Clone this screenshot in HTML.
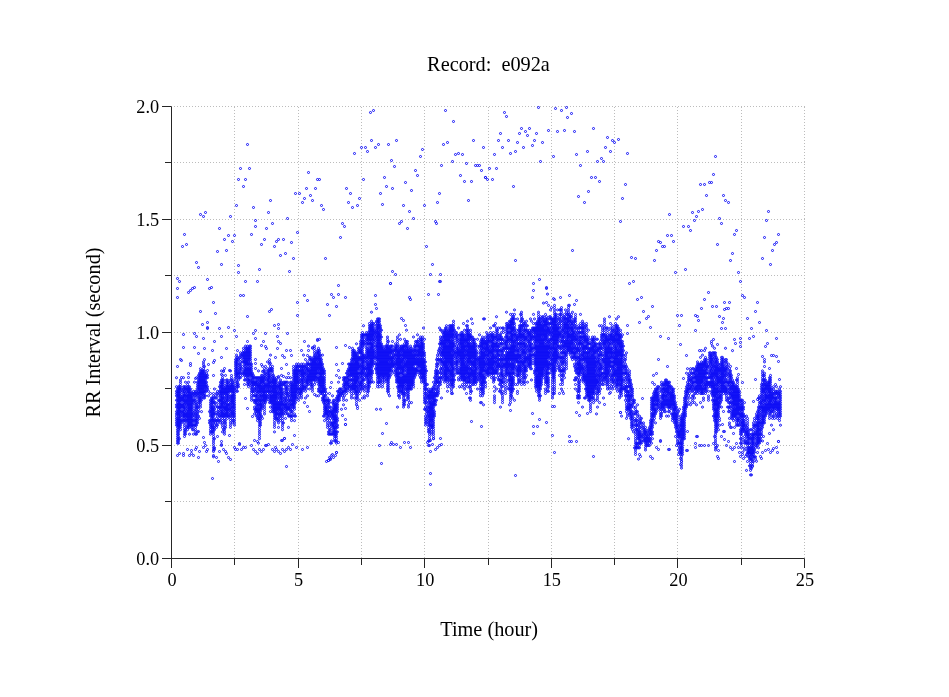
<!DOCTYPE html>
<html><head><meta charset="utf-8"><title>Record: e092a</title>
<style>html,body{margin:0;padding:0;background:#fff}svg{display:block;will-change:transform}</style></head>
<body>
<svg width="949" height="697" viewBox="0 0 949 697">
<defs><marker id="m" markerWidth="4" markerHeight="4" refX="2" refY="2" markerUnits="userSpaceOnUse" overflow="visible"><circle cx="2" cy="2" r="1.03" fill="none" stroke="#0a0af5" stroke-width="0.95"/></marker></defs>
<rect width="949" height="697" fill="#fff"/>
<path d="M234.5 107V558M298.5 107V558M361.5 107V558M424.5 107V558M488.5 107V558M551.5 107V558M614.5 107V558M677.5 107V558M741.5 107V558M804.5 107V558" fill="none" stroke="#bcbcbc" stroke-width="1" stroke-dasharray="1 2" shape-rendering="crispEdges"/>
<path d="M174 501.5H805M174 445.5H805M174 388.5H805M174 332.5H805M174 275.5H805M174 219.5H805M174 162.5H805M174 106.5H805" fill="none" stroke="#bcbcbc" stroke-width="1" stroke-dasharray="1 2" shape-rendering="crispEdges"/>
<path d="M171.5 106.5V568.0M162.0 558.5H804.5V568.0M234.5 558.5v6.5M298.5 558.5v9.5M361.5 558.5v6.5M424.5 558.5v9.5M488.5 558.5v6.5M551.5 558.5v9.5M614.5 558.5v6.5M677.5 558.5v9.5M741.5 558.5v6.5M171.5 501.5h-6.5M171.5 445.5h-9.5M171.5 388.5h-6.5M171.5 332.5h-9.5M171.5 275.5h-6.5M171.5 219.5h-9.5M171.5 162.5h-6.5M171.5 106.5h-9.5" fill="none" stroke="#262626" stroke-width="1"/>
<polyline transform="translate(.5 .5)" points="176,377.2 176,386.2 176,390.8 176,393 176,395.3 176,399.8 176,404.3 176,406.6 176,411.1 176,413.4 176,415.6 176,417.9 176,420.1 176,422.4 176,424.7 177,388.5 177,390.8 177,393 177,395.3 177,397.5 177,399.8 177,402.1 177,404.3 177,406.6 177,408.8 177,411.1 177,413.4 177,417.9 177,420.1 177,422.4 177,424.7 177,426.9 177,429.2 177,431.4 177,433.7 177,436 177,438.2 177,440.5 177,442.7 178,386.2 178,388.5 178,390.8 178,393 178,395.3 178,397.5 178,399.8 178,402.1 178,404.3 178,406.6 178,408.8 178,411.1 178,413.4 178,415.6 178,417.9 178,420.1 178,422.4 178,424.7 178,426.9 178,429.2 178,431.4 178,433.7 178,436 178,438.2 178,440.5 178,442.7 179,386.2 179,388.5 179,390.8 179,393 179,395.3 179,397.5 179,399.8 179,402.1 179,404.3 179,406.6 179,408.8 179,411.1 179,413.4 179,415.6 179,417.9 179,420.1 179,422.4 179,424.7 179,426.9 179,438.2 180,379.5 180,381.7 180,384 180,386.2 180,388.5 180,390.8 180,393 180,395.3 180,397.5 180,399.8 180,402.1 180,404.3 180,406.6 180,408.8 180,411.1 180,413.4 180,415.6 180,417.9 180,420.1 180,422.4 180,424.7 180,426.9 180,429.2 181,388.5 181,397.5 181,399.8 181,404.3 181,406.6 181,411.1 181,420.1 181,422.4 182,390.8 182,395.3 182,397.5 182,399.8 182,404.3 182,406.6 182,411.1 182,413.4 182,415.6 182,420.1 183,377.2 183,386.2 183,388.5 183,390.8 183,393 183,395.3 183,397.5 183,399.8 183,402.1 183,404.3 183,406.6 183,408.8 183,411.1 183,413.4 183,415.6 183,417.9 183,420.1 184,386.2 184,388.5 184,390.8 184,393 184,395.3 184,397.5 184,399.8 184,402.1 184,404.3 184,406.6 184,408.8 184,411.1 184,413.4 184,415.6 184,417.9 184,420.1 184,422.4 184,424.7 184,426.9 184,429.2 184,431.4 184,433.7 184,436 185,381.7 185,386.2 185,388.5 185,393 185,395.3 185,399.8 185,402.1 185,406.6 185,408.8 185,413.4 185,415.6 185,420.1 185,429.2 185,431.4 185,433.7 186,388.5 186,390.8 186,395.3 186,397.5 186,399.8 186,402.1 186,404.3 186,411.1 186,413.4 186,415.6 186,417.9 186,420.1 186,426.9 187,384 187,386.2 187,388.5 187,390.8 187,393 187,395.3 187,397.5 187,399.8 187,402.1 187,404.3 187,406.6 187,408.8 187,411.1 187,413.4 187,415.6 187,417.9 187,420.1 187,422.4 187,424.7 187,426.9 187,429.2 188,381.7 188,386.2 188,388.5 188,390.8 188,393 188,395.3 188,397.5 188,399.8 188,402.1 188,404.3 188,406.6 188,408.8 188,411.1 188,413.4 188,415.6 188,417.9 188,420.1 188,422.4 188,424.7 188,426.9 189,386.2 189,388.5 189,390.8 189,393 189,395.3 189,397.5 189,399.8 189,402.1 189,404.3 189,406.6 189,408.8 189,411.1 189,413.4 189,415.6 189,417.9 189,420.1 189,422.4 189,424.7 189,426.9 189,433.7 190,388.5 190,390.8 190,393 190,395.3 190,397.5 190,399.8 190,402.1 190,404.3 190,406.6 190,408.8 190,411.1 190,413.4 190,415.6 190,417.9 190,420.1 190,422.4 190,424.7 191,393 191,395.3 191,397.5 191,399.8 191,402.1 191,404.3 191,406.6 191,408.8 191,411.1 191,413.4 191,415.6 191,417.9 191,420.1 191,422.4 191,424.7 191,426.9 192,393 192,395.3 192,397.5 192,399.8 192,402.1 192,404.3 192,406.6 192,408.8 192,411.1 192,413.4 192,415.6 192,417.9 192,420.1 192,422.4 192,424.7 192,426.9 192,429.2 193,390.8 193,393 193,399.8 193,402.1 193,413.4 193,420.1 193,424.7 193,429.2 193,433.7 194,381.7 194,393 194,395.3 194,399.8 194,411.1 194,415.6 194,420.1 194,424.7 195,390.8 195,393 195,395.3 195,397.5 195,399.8 195,402.1 195,404.3 195,406.6 195,408.8 195,411.1 195,413.4 195,415.6 195,417.9 195,420.1 195,422.4 195,424.7 195,426.9 195,429.2 195,431.4 195,433.7 196,377.2 196,390.8 196,393 196,402.1 196,404.3 196,406.6 196,408.8 196,413.4 196,417.9 196,420.1 196,422.4 196,424.7 196,433.7 197,381.7 197,384 197,386.2 197,388.5 197,393 197,395.3 197,406.6 197,411.1 197,413.4 197,415.6 197,417.9 197,420.1 197,422.4 197,431.4 198,374.9 198,377.2 198,379.5 198,381.7 198,384 198,386.2 198,388.5 198,390.8 198,393 198,395.3 198,397.5 198,399.8 198,402.1 198,404.3 198,406.6 198,408.8 198,411.1 198,415.6 199,372.7 199,374.9 199,377.2 199,379.5 199,381.7 199,384 199,386.2 199,388.5 199,390.8 199,393 199,397.5 199,399.8 199,402.1 199,417.9 200,368.2 200,370.4 200,372.7 200,374.9 200,377.2 200,379.5 200,381.7 200,384 200,386.2 200,388.5 200,390.8 200,393 200,395.3 200,397.5 200,399.8 200,402.1 200,404.3 200,406.6 201,370.4 201,372.7 201,374.9 201,377.2 201,379.5 201,381.7 201,384 201,386.2 201,388.5 201,390.8 201,393 201,395.3 201,397.5 201,399.8 201,411.1 202,370.4 202,372.7 202,374.9 202,377.2 202,379.5 202,381.7 202,384 202,386.2 202,388.5 202,390.8 202,393 203,361.4 203,363.6 203,365.9 203,368.2 203,370.4 203,372.7 203,374.9 203,377.2 203,379.5 203,381.7 203,384 203,386.2 203,388.5 203,390.8 203,393 203,395.3 203,397.5 204,359.1 204,370.4 204,372.7 204,374.9 204,377.2 204,379.5 204,381.7 204,384 204,386.2 204,388.5 204,390.8 204,393 204,395.3 204,397.5 205,374.9 205,377.2 205,379.5 205,381.7 205,384 205,386.2 205,390.8 205,395.3 206,372.7 206,374.9 206,377.2 206,381.7 206,384 206,386.2 206,388.5 206,390.8 207,374.9 207,377.2 207,386.2 207,388.5 208,390.8 208,395.3 209,411.1 209,420.1 209,422.4 210,393 210,399.8 210,402.1 210,404.3 210,406.6 210,408.8 210,411.1 210,413.4 210,415.6 210,420.1 210,422.4 210,424.7 210,426.9 210,429.2 210,431.4 210,433.7 211,397.5 211,399.8 211,402.1 211,404.3 211,406.6 211,408.8 211,411.1 211,413.4 211,415.6 211,417.9 211,420.1 211,424.7 211,426.9 211,431.4 212,397.5 212,399.8 212,402.1 212,406.6 212,408.8 212,411.1 212,413.4 212,415.6 212,417.9 212,420.1 212,422.4 212,424.7 212,426.9 212,429.2 212,431.4 213,393 213,395.3 213,397.5 213,399.8 213,402.1 213,404.3 213,406.6 213,408.8 213,411.1 213,413.4 213,415.6 213,417.9 213,420.1 213,422.4 213,426.9 213,429.2 213,431.4 213,433.7 213,436 213,438.2 213,440.5 213,442.7 213,445 213,447.3 213,449.5 213,456.3 214,388.5 214,402.1 214,408.8 214,411.1 214,413.4 214,420.1 214,424.7 214,426.9 214,429.2 214,438.2 214,447.3 215,395.3 215,397.5 215,402.1 215,406.6 215,413.4 215,420.1 215,422.4 216,393 216,397.5 216,404.3 216,417.9 216,420.1 216,424.7 216,426.9 217,390.8 217,393 217,406.6 217,411.1 217,413.4 217,415.6 217,420.1 217,422.4 217,424.7 217,436 218,395.3 218,399.8 218,402.1 218,406.6 218,408.8 218,411.1 218,413.4 218,420.1 219,386.2 219,390.8 219,393 219,399.8 219,406.6 219,415.6 219,417.9 219,420.1 220,381.7 220,384 220,386.2 220,388.5 220,390.8 220,393 220,395.3 220,397.5 220,399.8 220,402.1 220,404.3 220,406.6 220,408.8 220,411.1 220,413.4 220,415.6 220,420.1 220,422.4 221,370.4 221,379.5 221,381.7 221,384 221,386.2 221,388.5 221,390.8 221,393 221,395.3 221,397.5 221,399.8 221,402.1 221,404.3 221,406.6 221,408.8 221,411.1 221,413.4 221,415.6 222,374.9 222,377.2 222,379.5 222,381.7 222,384 222,386.2 222,388.5 222,390.8 222,393 222,395.3 222,397.5 222,399.8 222,402.1 222,404.3 222,406.6 222,411.1 222,413.4 222,415.6 222,417.9 222,420.1 222,422.4 222,424.7 222,426.9 222,431.4 223,370.4 223,379.5 223,381.7 223,384 223,386.2 223,388.5 223,390.8 223,393 223,397.5 223,399.8 223,402.1 223,404.3 223,406.6 223,408.8 223,411.1 223,413.4 223,415.6 223,429.2 224,388.5 224,390.8 224,393 224,395.3 224,397.5 224,402.1 224,406.6 224,408.8 224,413.4 224,415.6 224,417.9 224,420.1 224,422.4 224,426.9 224,429.2 224,431.4 224,433.7 225,374.9 225,386.2 225,388.5 225,390.8 225,393 225,399.8 225,402.1 225,404.3 225,406.6 225,408.8 225,411.1 225,413.4 225,415.6 225,420.1 225,422.4 225,424.7 225,426.9 226,379.5 226,381.7 226,384 226,386.2 226,388.5 226,390.8 226,393 226,395.3 226,397.5 226,399.8 226,402.1 226,404.3 226,406.6 226,408.8 226,411.1 226,413.4 226,415.6 227,379.5 227,381.7 227,384 227,386.2 227,388.5 227,390.8 227,393 227,395.3 227,397.5 227,399.8 227,404.3 227,406.6 227,408.8 227,411.1 227,413.4 227,415.6 227,417.9 228,381.7 228,384 228,386.2 228,388.5 228,390.8 228,393 228,395.3 228,397.5 228,399.8 228,402.1 228,404.3 228,406.6 228,408.8 228,411.1 228,413.4 228,415.6 229,386.2 229,388.5 229,390.8 229,404.3 229,408.8 229,415.6 230,370.4 230,379.5 230,381.7 230,384 230,386.2 230,388.5 230,390.8 230,395.3 230,397.5 230,399.8 230,402.1 230,404.3 230,406.6 230,408.8 230,411.1 230,413.4 230,415.6 230,417.9 230,420.1 230,422.4 230,424.7 230,426.9 231,377.2 231,379.5 231,384 231,386.2 231,388.5 231,390.8 231,395.3 231,397.5 231,399.8 231,402.1 231,406.6 231,408.8 231,411.1 231,413.4 232,381.7 232,384 232,386.2 232,388.5 232,390.8 232,393 232,395.3 232,397.5 232,399.8 232,402.1 232,404.3 232,406.6 232,411.1 232,413.4 232,415.6 232,417.9 232,420.1 232,422.4 233,379.5 233,381.7 233,384 233,386.2 233,388.5 233,390.8 233,393 233,395.3 233,397.5 233,399.8 233,402.1 233,404.3 233,406.6 233,408.8 233,411.1 233,413.4 233,415.6 233,420.1 234,386.2 234,388.5 234,390.8 234,393 234,395.3 234,397.5 234,399.8 234,402.1 234,404.3 234,406.6 234,408.8 234,411.1 234,413.4 234,415.6 234,417.9 234,420.1 234,422.4 234,424.7 235,359.1 235,361.4 235,363.6 235,365.9 235,368.2 235,370.4 235,372.7 235,374.9 235,377.2 236,354.6 236,356.9 236,359.1 236,361.4 236,363.6 236,365.9 236,368.2 236,370.4 236,372.7 236,374.9 236,377.2 236,379.5 236,381.7 236,384 236,386.2 236,388.5 236,390.8 237,350.1 237,356.9 237,359.1 237,361.4 237,363.6 237,365.9 237,368.2 237,370.4 237,372.7 237,374.9 237,381.7 237,384 237,386.2 237,390.8 238,359.1 238,372.7 238,374.9 238,377.2 238,379.5 238,384 238,386.2 239,356.9 239,363.6 239,365.9 239,368.2 239,370.4 239,372.7 239,377.2 240,352.3 240,354.6 240,356.9 240,359.1 240,361.4 240,363.6 240,365.9 240,368.2 240,370.4 240,372.7 240,374.9 240,377.2 241,354.6 241,368.2 242,352.3 242,354.6 242,356.9 242,361.4 242,365.9 242,372.7 242,374.9 243,347.8 243,350.1 243,352.3 243,354.6 243,356.9 243,359.1 243,361.4 243,370.4 243,372.7 244,352.3 244,354.6 244,356.9 244,359.1 244,361.4 244,363.6 244,365.9 244,368.2 244,370.4 244,372.7 244,374.9 244,379.5 244,384 245,345.6 245,347.8 245,350.1 245,352.3 245,354.6 245,356.9 245,359.1 245,361.4 245,363.6 245,365.9 245,368.2 245,370.4 245,372.7 245,374.9 245,377.2 245,379.5 246,347.8 246,350.1 246,352.3 246,354.6 246,356.9 246,359.1 246,361.4 246,363.6 246,368.2 246,370.4 246,372.7 246,374.9 247,341 247,345.6 247,347.8 247,350.1 247,352.3 247,354.6 247,356.9 247,359.1 247,361.4 247,363.6 247,365.9 247,368.2 247,370.4 247,372.7 247,374.9 247,377.2 247,379.5 247,381.7 247,384 248,347.8 248,350.1 248,352.3 248,354.6 248,356.9 248,359.1 248,361.4 248,363.6 248,365.9 248,368.2 248,370.4 248,372.7 248,374.9 248,377.2 248,379.5 248,381.7 248,384 248,386.2 249,345.6 249,347.8 249,350.1 249,352.3 249,354.6 249,356.9 249,359.1 249,363.6 249,368.2 249,370.4 249,372.7 249,374.9 249,379.5 249,384 250,345.6 250,347.8 250,350.1 250,352.3 250,354.6 250,356.9 250,359.1 250,361.4 250,363.6 250,365.9 250,368.2 250,370.4 250,372.7 250,374.9 250,379.5 250,381.7 251,363.6 251,365.9 251,368.2 251,370.4 251,372.7 251,374.9 251,377.2 251,381.7 251,384 251,386.2 251,388.5 251,390.8 251,393 251,395.3 251,397.5 251,399.8 252,372.7 252,374.9 252,377.2 252,379.5 252,381.7 252,384 252,386.2 252,388.5 252,390.8 253,374.9 253,377.2 253,379.5 253,381.7 253,384 253,390.8 253,393 253,395.3 253,399.8 254,377.2 254,381.7 254,384 254,386.2 254,388.5 254,390.8 254,395.3 254,399.8 254,402.1 254,406.6 254,408.8 254,413.4 255,377.2 255,381.7 255,384 255,388.5 255,395.3 255,399.8 255,402.1 255,408.8 255,411.1 256,377.2 256,379.5 256,381.7 256,384 256,386.2 256,388.5 256,390.8 256,393 256,395.3 256,397.5 256,399.8 256,402.1 256,404.3 256,406.6 256,408.8 256,411.1 256,413.4 256,415.6 257,377.2 257,379.5 257,381.7 257,384 257,386.2 257,390.8 257,393 257,395.3 257,397.5 257,399.8 257,402.1 257,404.3 257,406.6 257,408.8 257,411.1 257,415.6 257,417.9 257,420.1 258,370.4 258,377.2 258,384 258,386.2 258,388.5 258,390.8 258,399.8 258,404.3 258,408.8 258,411.1 258,413.4 258,417.9 258,442.7 259,377.2 259,379.5 259,381.7 259,384 259,386.2 259,388.5 259,390.8 259,393 259,395.3 259,397.5 259,399.8 259,402.1 259,404.3 259,406.6 259,408.8 259,411.1 259,413.4 259,415.6 259,417.9 259,420.1 259,422.4 259,424.7 259,426.9 259,429.2 259,431.4 259,433.7 259,436 259,438.2 260,377.2 260,379.5 260,381.7 260,384 260,386.2 260,388.5 260,390.8 260,393 260,395.3 260,397.5 260,399.8 260,402.1 260,404.3 260,406.6 260,408.8 260,411.1 260,413.4 260,415.6 260,417.9 260,420.1 260,422.4 260,424.7 261,374.9 261,377.2 261,379.5 261,381.7 261,384 261,386.2 261,388.5 261,390.8 261,395.3 261,399.8 261,402.1 261,404.3 261,406.6 261,408.8 261,415.6 262,365.9 262,374.9 262,377.2 262,379.5 262,381.7 262,386.2 262,388.5 262,390.8 262,393 262,395.3 262,397.5 262,399.8 262,404.3 262,406.6 262,417.9 263,370.4 263,377.2 263,379.5 263,381.7 263,384 263,386.2 263,388.5 263,390.8 263,393 263,395.3 263,397.5 263,399.8 263,402.1 264,368.2 264,370.4 264,372.7 264,374.9 264,377.2 264,379.5 264,381.7 264,384 264,386.2 264,388.5 264,390.8 264,393 264,395.3 264,397.5 264,399.8 264,402.1 264,404.3 264,406.6 264,408.8 264,411.1 264,413.4 265,365.9 265,372.7 265,374.9 265,377.2 265,384 265,386.2 265,388.5 265,390.8 265,393 265,395.3 265,397.5 265,399.8 265,402.1 266,379.5 266,384 266,386.2 266,390.8 266,395.3 266,397.5 266,399.8 267,361.4 267,368.2 267,370.4 267,372.7 267,374.9 267,377.2 267,379.5 267,381.7 267,384 267,386.2 267,388.5 267,390.8 267,393 267,395.3 267,397.5 268,370.4 268,372.7 268,374.9 268,377.2 268,379.5 268,381.7 268,384 268,386.2 268,388.5 268,390.8 269,359.1 269,361.4 269,363.6 269,368.2 269,370.4 269,372.7 269,374.9 269,377.2 269,379.5 269,381.7 269,384 269,386.2 269,388.5 269,390.8 269,393 269,395.3 269,397.5 269,399.8 269,402.1 270,354.6 270,365.9 270,368.2 270,370.4 270,374.9 270,377.2 270,381.7 270,384 270,386.2 270,390.8 270,393 270,395.3 270,397.5 270,399.8 270,402.1 270,406.6 270,411.1 271,368.2 271,370.4 271,379.5 271,381.7 271,386.2 271,388.5 271,390.8 271,395.3 271,397.5 271,399.8 271,402.1 272,365.9 272,368.2 272,370.4 272,372.7 272,374.9 272,377.2 272,379.5 272,381.7 272,384 272,386.2 272,388.5 272,390.8 272,393 272,395.3 272,397.5 272,399.8 272,402.1 272,404.3 272,406.6 272,408.8 272,411.1 273,374.9 273,377.2 273,379.5 273,381.7 273,384 273,386.2 273,388.5 273,390.8 273,393 273,395.3 273,397.5 273,399.8 273,402.1 273,404.3 273,406.6 273,408.8 273,411.1 274,377.2 274,379.5 274,381.7 274,384 274,386.2 274,388.5 274,390.8 274,393 274,395.3 274,397.5 274,399.8 274,402.1 274,404.3 274,406.6 274,408.8 274,411.1 274,413.4 274,415.6 274,417.9 274,420.1 274,422.4 274,424.7 274,426.9 274,431.4 275,379.5 275,381.7 275,384 275,386.2 275,388.5 275,390.8 275,393 275,395.3 275,397.5 275,399.8 275,402.1 275,404.3 275,406.6 275,408.8 275,411.1 275,413.4 275,415.6 275,417.9 276,377.2 276,379.5 276,381.7 276,384 276,386.2 276,388.5 276,390.8 276,393 276,395.3 276,397.5 276,399.8 276,402.1 276,404.3 276,406.6 276,408.8 276,411.1 276,413.4 276,417.9 277,386.2 277,390.8 277,393 277,395.3 277,397.5 277,402.1 277,404.3 277,406.6 277,408.8 277,411.1 277,413.4 277,415.6 277,417.9 277,420.1 278,377.2 278,384 278,386.2 278,388.5 278,393 278,399.8 278,402.1 278,404.3 278,406.6 278,408.8 278,413.4 278,417.9 278,420.1 278,422.4 278,426.9 279,381.7 279,384 279,386.2 279,388.5 279,390.8 279,393 279,395.3 279,397.5 279,402.1 279,404.3 279,406.6 279,408.8 279,411.1 279,413.4 279,415.6 280,379.5 280,381.7 280,384 280,386.2 280,388.5 280,390.8 280,393 280,395.3 280,397.5 280,399.8 280,402.1 280,404.3 280,406.6 280,408.8 280,411.1 280,413.4 280,415.6 280,417.9 280,420.1 281,374.9 281,381.7 281,384 281,386.2 281,388.5 281,390.8 281,393 281,395.3 281,397.5 281,399.8 281,402.1 281,404.3 281,406.6 281,408.8 281,411.1 281,413.4 282,384 282,388.5 282,390.8 282,393 282,395.3 282,397.5 282,399.8 282,402.1 282,404.3 282,408.8 282,411.1 282,413.4 282,415.6 282,417.9 282,420.1 282,422.4 282,424.7 282,426.9 282,429.2 283,381.7 283,384 283,393 283,402.1 283,404.3 283,406.6 283,408.8 283,411.1 283,413.4 283,422.4 284,381.7 284,384 284,397.5 284,399.8 284,404.3 284,406.6 285,381.7 285,384 285,386.2 285,388.5 285,390.8 285,393 285,395.3 285,397.5 285,399.8 285,402.1 285,404.3 285,406.6 285,408.8 285,411.1 285,413.4 285,417.9 286,377.2 286,381.7 286,386.2 286,388.5 286,390.8 286,393 286,399.8 286,402.1 286,404.3 286,406.6 286,408.8 286,411.1 287,381.7 287,386.2 287,388.5 287,393 287,395.3 287,397.5 287,404.3 287,406.6 287,408.8 287,413.4 288,384 288,390.8 288,393 288,395.3 288,399.8 288,402.1 288,406.6 288,408.8 288,413.4 288,415.6 288,426.9 289,397.5 289,399.8 289,402.1 289,404.3 289,406.6 289,408.8 289,415.6 290,377.2 290,381.7 290,384 290,386.2 290,388.5 290,390.8 290,393 290,395.3 290,399.8 290,404.3 290,406.6 290,408.8 290,411.1 290,415.6 291,381.7 291,384 291,386.2 291,388.5 291,390.8 291,393 291,395.3 291,397.5 291,399.8 291,402.1 291,404.3 291,411.1 291,413.4 291,415.6 291,417.9 291,420.1 292,384 292,386.2 292,388.5 292,390.8 292,393 292,395.3 292,397.5 292,399.8 292,402.1 292,404.3 292,406.6 292,408.8 292,411.1 292,415.6 293,365.9 293,368.2 293,370.4 293,372.7 293,374.9 293,377.2 293,379.5 293,381.7 293,384 293,386.2 293,388.5 293,390.8 293,393 293,395.3 293,397.5 293,399.8 293,402.1 293,404.3 293,406.6 294,370.4 294,372.7 294,374.9 294,377.2 294,379.5 294,381.7 294,384 294,386.2 294,388.5 294,390.8 294,393 294,395.3 294,397.5 294,399.8 294,402.1 294,404.3 294,406.6 294,408.8 294,413.4 294,415.6 294,420.1 295,365.9 295,368.2 295,370.4 295,372.7 295,374.9 295,377.2 295,379.5 295,381.7 295,384 295,386.2 295,388.5 295,390.8 295,393 295,395.3 295,397.5 295,399.8 295,402.1 295,415.6 296,363.6 296,365.9 296,368.2 296,370.4 296,372.7 296,374.9 296,377.2 296,379.5 296,381.7 296,384 296,386.2 296,388.5 296,390.8 296,393 296,395.3 296,397.5 297,365.9 297,368.2 297,370.4 297,372.7 297,374.9 297,377.2 297,379.5 297,381.7 297,384 297,386.2 297,388.5 297,390.8 298,363.6 298,365.9 298,370.4 298,372.7 298,374.9 298,377.2 298,379.5 298,381.7 298,388.5 298,393 298,397.5 298,399.8 299,365.9 299,368.2 299,370.4 299,381.7 299,384 299,386.2 299,388.5 299,390.8 299,393 299,395.3 300,365.9 300,370.4 300,372.7 300,374.9 300,377.2 300,379.5 300,388.5 300,390.8 300,393 301,363.6 301,365.9 301,368.2 301,370.4 301,372.7 301,374.9 301,379.5 301,381.7 301,384 301,386.2 301,388.5 301,390.8 301,393 301,395.3 301,397.5 302,365.9 302,368.2 302,370.4 302,372.7 302,374.9 302,377.2 302,379.5 302,381.7 302,384 302,386.2 302,388.5 302,390.8 303,354.6 303,363.6 303,365.9 303,368.2 303,370.4 303,372.7 303,374.9 303,377.2 303,379.5 303,381.7 303,384 303,386.2 303,388.5 304,365.9 304,370.4 304,372.7 304,374.9 304,377.2 304,386.2 304,388.5 304,402.1 305,359.1 305,365.9 305,368.2 305,372.7 305,379.5 305,381.7 305,386.2 305,390.8 305,397.5 306,363.6 306,365.9 306,368.2 306,370.4 306,372.7 306,374.9 306,377.2 306,379.5 306,381.7 306,384 306,386.2 306,388.5 307,361.4 307,363.6 307,368.2 307,370.4 307,374.9 307,377.2 307,379.5 307,381.7 307,384 307,395.3 308,345.6 308,363.6 308,365.9 308,368.2 308,370.4 308,372.7 308,374.9 308,377.2 308,379.5 308,381.7 308,384 309,356.9 309,359.1 309,363.6 309,370.4 309,372.7 309,374.9 309,377.2 309,379.5 309,388.5 310,356.9 310,359.1 310,363.6 310,365.9 310,368.2 310,370.4 310,372.7 310,374.9 310,377.2 310,379.5 310,381.7 310,384 311,359.1 311,361.4 311,363.6 311,365.9 311,368.2 311,370.4 311,372.7 311,374.9 311,377.2 311,379.5 311,381.7 311,384 311,386.2 312,347.8 312,359.1 312,361.4 312,363.6 312,365.9 312,368.2 312,370.4 312,372.7 312,374.9 312,377.2 312,379.5 312,384 312,386.2 312,388.5 312,390.8 313,356.9 313,359.1 313,361.4 313,363.6 313,365.9 313,368.2 313,370.4 313,372.7 313,374.9 313,377.2 313,379.5 314,345.6 314,347.8 314,350.1 314,352.3 314,354.6 314,356.9 314,359.1 314,361.4 314,363.6 314,365.9 314,368.2 314,370.4 314,372.7 314,374.9 314,377.2 314,379.5 314,384 315,354.6 315,356.9 315,359.1 315,361.4 315,363.6 315,365.9 315,368.2 315,370.4 315,372.7 315,374.9 315,377.2 315,379.5 315,381.7 316,352.3 316,356.9 316,359.1 316,361.4 316,363.6 316,365.9 316,368.2 316,370.4 316,372.7 316,374.9 316,377.2 316,395.3 317,350.1 317,352.3 317,354.6 317,356.9 317,359.1 317,363.6 317,365.9 317,368.2 317,370.4 317,372.7 317,377.2 317,379.5 318,347.8 318,350.1 318,352.3 318,354.6 318,356.9 318,359.1 318,361.4 318,363.6 318,365.9 318,368.2 318,372.7 318,377.2 318,379.5 318,381.7 318,384 318,388.5 318,390.8 318,395.3 319,338.8 319,350.1 319,352.3 319,354.6 319,356.9 319,359.1 319,361.4 319,363.6 319,365.9 319,368.2 319,370.4 319,372.7 319,374.9 319,377.2 319,379.5 319,381.7 319,384 319,386.2 319,388.5 319,390.8 320,354.6 320,356.9 320,359.1 320,361.4 320,363.6 320,365.9 320,368.2 320,370.4 320,372.7 320,374.9 320,377.2 320,379.5 320,381.7 320,384 320,386.2 320,390.8 320,393 321,359.1 321,361.4 321,363.6 321,365.9 321,368.2 321,370.4 321,372.7 321,374.9 321,377.2 321,379.5 321,381.7 321,384 321,386.2 321,388.5 321,390.8 321,393 322,354.6 322,363.6 322,365.9 322,368.2 322,370.4 322,372.7 322,374.9 322,377.2 322,379.5 322,381.7 322,384 322,386.2 322,388.5 322,390.8 322,393 322,397.5 322,399.8 323,368.2 323,370.4 323,372.7 323,377.2 323,379.5 323,381.7 323,384 323,386.2 323,388.5 323,390.8 323,395.3 323,397.5 323,399.8 323,402.1 323,415.6 324,370.4 324,372.7 324,374.9 324,377.2 324,379.5 324,381.7 324,384 324,386.2 324,388.5 324,390.8 324,393 324,395.3 324,397.5 324,399.8 324,402.1 324,404.3 324,406.6 324,408.8 324,411.1 324,413.4 324,415.6 324,420.1 325,388.5 325,390.8 325,395.3 325,399.8 325,402.1 325,404.3 325,406.6 325,408.8 325,411.1 325,413.4 326,393 326,399.8 326,406.6 326,408.8 326,411.1 326,413.4 326,417.9 327,397.5 327,399.8 327,402.1 327,404.3 327,406.6 327,408.8 327,411.1 327,413.4 327,415.6 327,417.9 327,420.1 327,422.4 327,424.7 327,426.9 328,399.8 328,402.1 328,404.3 328,411.1 328,413.4 328,415.6 328,431.4 328,433.7 329,393 329,399.8 329,402.1 329,406.6 329,408.8 329,411.1 329,415.6 329,420.1 329,424.7 329,426.9 329,429.2 329,431.4 329,433.7 330,406.6 330,411.1 330,413.4 330,417.9 330,422.4 330,429.2 330,433.7 330,442.7 331,411.1 331,413.4 331,415.6 331,422.4 331,424.7 331,433.7 331,440.5 331,442.7 332,395.3 332,402.1 332,408.8 332,411.1 332,413.4 332,415.6 332,417.9 332,422.4 332,424.7 332,426.9 332,431.4 332,433.7 333,399.8 333,402.1 333,404.3 333,406.6 333,408.8 333,411.1 333,413.4 333,415.6 333,417.9 333,420.1 333,422.4 333,424.7 333,426.9 333,429.2 333,431.4 333,433.7 334,399.8 334,402.1 334,404.3 334,406.6 334,408.8 334,411.1 334,413.4 334,415.6 334,417.9 334,420.1 334,422.4 334,424.7 334,426.9 334,429.2 334,431.4 334,433.7 334,436 334,438.2 334,440.5 335,404.3 335,406.6 335,408.8 335,411.1 335,415.6 335,417.9 335,420.1 335,422.4 335,426.9 335,429.2 335,431.4 335,433.7 335,436 335,440.5 336,397.5 336,399.8 336,402.1 336,404.3 336,406.6 336,408.8 336,411.1 336,413.4 336,415.6 336,417.9 336,420.1 336,422.4 336,424.7 336,426.9 336,431.4 336,433.7 336,436 336,438.2 336,440.5 336,442.7 337,390.8 337,395.3 337,397.5 337,399.8 337,402.1 337,404.3 337,406.6 337,408.8 337,411.1 337,417.9 337,420.1 337,424.7 337,426.9 337,431.4 338,381.7 338,390.8 338,393 338,395.3 338,397.5 338,399.8 339,377.2 339,388.5 339,390.8 339,393 339,395.3 339,397.5 339,399.8 340,388.5 340,393 340,395.3 341,388.5 341,390.8 341,393 341,408.8 342,390.8 342,393 342,395.3 343,377.2 343,379.5 343,384 343,386.2 343,390.8 343,393 343,397.5 343,399.8 343,404.3 344,377.2 344,379.5 344,381.7 344,384 344,386.2 344,388.5 344,390.8 344,395.3 345,377.2 345,379.5 345,381.7 345,384 345,386.2 345,388.5 345,390.8 346,372.7 346,377.2 346,381.7 346,384 346,388.5 346,390.8 346,393 346,399.8 347,370.4 347,372.7 347,374.9 347,377.2 347,379.5 347,381.7 347,384 347,386.2 347,388.5 348,363.6 348,368.2 348,370.4 348,374.9 348,377.2 348,379.5 348,381.7 348,384 348,386.2 349,363.6 349,365.9 349,368.2 349,370.4 349,372.7 349,374.9 349,379.5 349,384 349,386.2 349,388.5 349,390.8 350,363.6 350,365.9 350,368.2 350,370.4 350,372.7 350,374.9 350,379.5 350,386.2 351,359.1 351,361.4 351,363.6 351,365.9 351,368.2 351,370.4 351,372.7 351,374.9 351,377.2 351,379.5 351,381.7 351,384 351,386.2 351,388.5 351,390.8 351,393 351,395.3 351,397.5 352,347.8 352,350.1 352,352.3 352,354.6 352,356.9 352,359.1 352,361.4 352,363.6 352,365.9 352,368.2 352,370.4 352,372.7 352,374.9 352,379.5 352,384 352,386.2 352,388.5 353,350.1 353,352.3 353,354.6 353,356.9 353,359.1 353,363.6 353,365.9 353,368.2 353,370.4 353,372.7 353,374.9 353,377.2 353,379.5 353,381.7 353,384 353,386.2 353,388.5 353,393 354,350.1 354,352.3 354,354.6 354,356.9 354,359.1 354,361.4 354,363.6 354,365.9 354,368.2 354,370.4 354,372.7 354,374.9 354,377.2 354,379.5 354,381.7 354,384 354,386.2 354,388.5 354,390.8 354,397.5 355,352.3 355,354.6 355,356.9 355,359.1 355,361.4 355,363.6 355,365.9 355,368.2 355,370.4 355,372.7 355,374.9 355,377.2 355,379.5 355,381.7 355,384 355,386.2 355,388.5 355,390.8 355,393 356,343.3 356,352.3 356,354.6 356,356.9 356,359.1 356,361.4 356,363.6 356,365.9 356,368.2 356,370.4 356,372.7 356,374.9 356,377.2 356,379.5 356,381.7 356,384 356,386.2 356,388.5 356,390.8 356,393 356,395.3 356,397.5 356,399.8 356,402.1 356,404.3 357,354.6 357,356.9 357,359.1 357,361.4 357,363.6 357,365.9 357,368.2 357,370.4 357,372.7 357,374.9 357,377.2 357,379.5 357,381.7 357,386.2 357,390.8 357,393 357,395.3 357,397.5 358,347.8 358,350.1 358,352.3 358,356.9 358,359.1 358,361.4 358,363.6 358,365.9 358,368.2 358,372.7 358,374.9 358,377.2 358,379.5 358,384 358,386.2 358,388.5 358,390.8 359,347.8 359,350.1 359,352.3 359,356.9 359,359.1 359,363.6 359,365.9 359,368.2 359,372.7 359,377.2 359,381.7 359,384 359,388.5 359,393 359,399.8 360,341 360,343.3 360,345.6 360,350.1 360,352.3 360,356.9 360,359.1 360,365.9 360,370.4 360,372.7 360,374.9 360,381.7 360,384 360,386.2 360,390.8 361,334.3 361,336.5 361,338.8 361,341 361,343.3 361,345.6 361,347.8 361,350.1 361,352.3 361,354.6 361,356.9 361,359.1 361,361.4 361,363.6 361,365.9 361,368.2 361,370.4 361,372.7 361,374.9 361,377.2 361,379.5 361,381.7 361,384 361,386.2 361,388.5 362,332 362,334.3 362,336.5 362,338.8 362,341 362,343.3 362,345.6 362,347.8 362,350.1 362,352.3 362,354.6 362,356.9 362,359.1 362,361.4 362,363.6 362,365.9 362,368.2 362,370.4 362,372.7 362,374.9 362,377.2 362,379.5 362,381.7 362,384 362,386.2 362,388.5 362,397.5 363,325.2 363,334.3 363,336.5 363,341 363,343.3 363,354.6 363,356.9 363,359.1 363,361.4 363,363.6 363,365.9 363,368.2 363,370.4 363,372.7 363,379.5 364,334.3 364,338.8 364,341 364,343.3 364,345.6 364,354.6 364,356.9 364,359.1 364,361.4 364,365.9 364,368.2 364,372.7 364,374.9 364,377.2 364,379.5 364,384 364,386.2 364,388.5 364,390.8 364,395.3 364,397.5 365,334.3 365,356.9 365,368.2 365,370.4 365,374.9 365,386.2 366,332 366,334.3 366,336.5 366,338.8 366,341 366,343.3 366,347.8 366,350.1 366,352.3 366,354.6 366,356.9 366,359.1 366,361.4 366,363.6 366,365.9 366,368.2 366,372.7 366,374.9 366,377.2 367,334.3 367,336.5 367,338.8 367,341 367,343.3 367,345.6 367,347.8 367,350.1 367,352.3 367,354.6 367,356.9 367,359.1 367,361.4 367,363.6 367,365.9 367,368.2 367,370.4 367,372.7 367,374.9 367,377.2 367,379.5 367,381.7 367,384 367,386.2 367,388.5 367,390.8 367,393 367,395.3 368,332 368,334.3 368,336.5 368,338.8 368,343.3 368,350.1 368,352.3 368,354.6 368,356.9 368,363.6 368,365.9 368,368.2 368,370.4 368,372.7 368,374.9 368,377.2 368,379.5 368,381.7 368,384 368,386.2 368,388.5 368,390.8 369,323 369,325.2 369,327.5 369,329.7 369,332 369,334.3 369,336.5 369,338.8 369,341 369,343.3 369,347.8 369,350.1 369,352.3 369,354.6 369,356.9 369,359.1 369,361.4 369,363.6 369,365.9 369,368.2 369,370.4 369,372.7 369,374.9 369,379.5 369,381.7 369,384 369,386.2 370,325.2 370,327.5 370,329.7 370,332 370,334.3 370,336.5 370,338.8 370,341 370,343.3 370,345.6 370,347.8 370,350.1 370,352.3 370,354.6 370,356.9 370,359.1 370,361.4 370,363.6 370,365.9 370,368.2 370,370.4 370,372.7 370,374.9 370,377.2 370,381.7 371,311.7 371,320.7 371,323 371,325.2 371,327.5 371,329.7 371,332 371,334.3 371,336.5 371,338.8 371,341 371,343.3 371,345.6 371,347.8 371,350.1 371,352.3 371,354.6 371,356.9 371,359.1 371,361.4 371,363.6 371,365.9 371,368.2 371,370.4 371,372.7 371,374.9 371,377.2 371,379.5 371,381.7 372,323 372,325.2 372,327.5 372,329.7 372,332 372,334.3 372,336.5 372,338.8 372,343.3 372,345.6 372,347.8 372,350.1 372,352.3 372,354.6 372,356.9 372,359.1 372,361.4 372,363.6 372,365.9 372,370.4 372,372.7 373,323 373,325.2 373,327.5 373,329.7 373,332 373,334.3 373,336.5 373,338.8 373,341 373,343.3 373,345.6 373,347.8 373,350.1 373,352.3 373,354.6 373,356.9 373,359.1 373,361.4 373,363.6 373,381.7 374,329.7 374,332 374,334.3 374,338.8 374,341 374,350.1 374,352.3 374,354.6 374,356.9 375,323 375,332 375,336.5 375,345.6 375,356.9 375,363.6 375,368.2 376,320.7 376,325.2 376,327.5 376,329.7 376,332 376,334.3 376,336.5 376,338.8 376,341 376,343.3 376,345.6 376,347.8 376,350.1 376,352.3 376,354.6 376,356.9 376,359.1 376,361.4 376,363.6 376,365.9 376,368.2 376,370.4 376,372.7 376,408.8 377,318.4 377,320.7 377,323 377,325.2 377,327.5 377,329.7 377,332 377,334.3 377,336.5 377,338.8 377,341 377,343.3 377,345.6 377,347.8 377,350.1 377,352.3 377,354.6 377,356.9 377,359.1 377,363.6 377,365.9 377,368.2 377,370.4 377,372.7 377,374.9 377,377.2 377,379.5 377,381.7 377,384 377,386.2 378,318.4 378,320.7 378,323 378,325.2 378,327.5 378,329.7 378,332 378,334.3 378,336.5 378,338.8 378,341 378,343.3 378,345.6 378,347.8 378,350.1 378,352.3 378,354.6 378,356.9 378,359.1 378,361.4 378,363.6 378,365.9 378,368.2 378,370.4 378,372.7 378,374.9 378,377.2 378,381.7 379,318.4 379,320.7 379,323 379,325.2 379,327.5 379,332 379,334.3 379,336.5 379,338.8 379,341 379,343.3 379,345.6 379,347.8 379,350.1 379,352.3 379,354.6 379,356.9 379,359.1 379,361.4 379,363.6 379,365.9 379,368.2 379,370.4 379,372.7 379,374.9 379,377.2 379,379.5 379,381.7 379,384 379,386.2 380,325.2 380,327.5 380,329.7 380,332 380,334.3 380,336.5 380,338.8 380,341 380,343.3 380,345.6 380,347.8 380,350.1 380,352.3 380,354.6 380,356.9 380,359.1 380,361.4 380,363.6 380,365.9 380,368.2 380,370.4 380,372.7 380,374.9 380,377.2 380,379.5 380,381.7 380,408.8 381,329.7 381,336.5 381,343.3 381,345.6 381,347.8 381,350.1 381,352.3 381,354.6 381,356.9 381,359.1 381,361.4 381,363.6 381,365.9 381,368.2 381,370.4 381,372.7 381,374.9 382,345.6 382,347.8 382,350.1 382,352.3 382,354.6 382,356.9 382,359.1 382,361.4 382,363.6 382,365.9 382,368.2 382,370.4 382,372.7 382,374.9 382,377.2 382,379.5 382,381.7 382,384 382,386.2 383,347.8 383,350.1 383,352.3 383,354.6 383,356.9 383,359.1 383,361.4 383,363.6 383,365.9 383,368.2 383,370.4 383,372.7 383,374.9 383,377.2 384,350.1 384,352.3 384,354.6 384,356.9 384,359.1 384,361.4 384,363.6 384,365.9 384,368.2 384,370.4 384,372.7 384,374.9 384,377.2 384,379.5 384,381.7 385,345.6 385,347.8 385,350.1 385,352.3 385,354.6 385,356.9 385,359.1 385,361.4 385,363.6 385,365.9 385,368.2 385,370.4 385,372.7 385,374.9 386,345.6 386,347.8 386,350.1 386,352.3 386,354.6 386,356.9 386,359.1 386,361.4 386,363.6 386,365.9 386,368.2 386,370.4 386,372.7 386,374.9 386,377.2 386,379.5 387,336.5 387,338.8 387,341 387,343.3 387,345.6 387,347.8 387,350.1 387,352.3 387,354.6 387,356.9 387,359.1 387,361.4 387,363.6 387,365.9 387,368.2 387,370.4 387,372.7 387,374.9 387,377.2 387,379.5 387,381.7 387,384 387,386.2 387,388.5 387,390.8 388,341 388,345.6 388,347.8 388,350.1 388,352.3 388,354.6 388,356.9 388,359.1 388,361.4 388,363.6 388,365.9 388,368.2 388,370.4 388,372.7 388,374.9 388,377.2 388,379.5 388,381.7 388,384 388,386.2 388,388.5 388,390.8 388,393 389,347.8 389,350.1 389,352.3 389,354.6 389,356.9 389,359.1 389,363.6 389,365.9 389,368.2 389,370.4 389,372.7 389,374.9 389,377.2 389,395.3 390,345.6 390,347.8 390,350.1 390,352.3 390,356.9 390,359.1 390,361.4 390,363.6 390,365.9 390,368.2 390,370.4 390,374.9 391,345.6 391,347.8 391,350.1 391,352.3 391,354.6 391,356.9 391,359.1 391,361.4 391,363.6 391,365.9 391,368.2 391,370.4 392,341 392,345.6 392,350.1 392,352.3 392,356.9 392,359.1 392,361.4 392,363.6 392,365.9 392,372.7 393,350.1 393,354.6 393,356.9 393,359.1 393,361.4 393,363.6 393,365.9 393,370.4 394,347.8 394,350.1 394,352.3 394,354.6 394,356.9 394,363.6 394,365.9 395,343.3 395,345.6 395,347.8 395,350.1 395,354.6 395,359.1 395,361.4 395,363.6 395,368.2 395,370.4 395,372.7 395,374.9 396,345.6 396,347.8 396,350.1 396,352.3 396,354.6 396,356.9 396,359.1 396,361.4 396,363.6 396,365.9 396,368.2 396,370.4 396,372.7 396,374.9 396,377.2 396,379.5 396,381.7 397,336.5 397,338.8 397,341 397,343.3 397,345.6 397,347.8 397,350.1 397,352.3 397,354.6 397,356.9 397,359.1 397,361.4 397,363.6 397,365.9 397,368.2 397,370.4 397,372.7 397,374.9 397,377.2 397,379.5 397,381.7 397,386.2 397,406.6 398,350.1 398,352.3 398,354.6 398,356.9 398,359.1 398,361.4 398,363.6 398,365.9 398,368.2 398,372.7 398,374.9 398,377.2 398,379.5 398,381.7 398,384 398,386.2 398,388.5 398,390.8 398,393 398,395.3 399,334.3 399,345.6 399,347.8 399,350.1 399,352.3 399,354.6 399,356.9 399,359.1 399,361.4 399,363.6 399,365.9 399,368.2 399,370.4 399,372.7 399,374.9 399,377.2 399,379.5 399,381.7 399,384 399,386.2 399,388.5 399,390.8 399,395.3 399,397.5 400,338.8 400,347.8 400,350.1 400,352.3 400,354.6 400,356.9 400,359.1 400,361.4 400,363.6 400,365.9 400,368.2 400,372.7 400,377.2 400,379.5 400,381.7 400,384 400,386.2 400,390.8 401,345.6 401,347.8 401,350.1 401,354.6 401,359.1 401,361.4 401,363.6 401,365.9 401,368.2 401,370.4 401,372.7 401,377.2 401,379.5 401,381.7 401,384 401,386.2 401,388.5 401,390.8 401,393 402,345.6 402,347.8 402,350.1 402,352.3 402,354.6 402,356.9 402,359.1 402,361.4 402,365.9 402,368.2 402,370.4 402,372.7 402,374.9 402,377.2 402,379.5 402,381.7 402,384 402,386.2 402,388.5 402,390.8 402,393 403,345.6 403,347.8 403,350.1 403,352.3 403,354.6 403,356.9 403,359.1 403,361.4 403,363.6 403,365.9 403,368.2 403,370.4 403,372.7 403,374.9 403,377.2 403,379.5 403,381.7 403,384 403,386.2 403,388.5 403,390.8 403,393 403,395.3 403,397.5 403,399.8 403,402.1 403,404.3 403,406.6 404,338.8 404,343.3 404,345.6 404,347.8 404,350.1 404,352.3 404,354.6 404,356.9 404,359.1 404,363.6 404,365.9 404,368.2 404,370.4 404,374.9 404,377.2 404,379.5 404,381.7 404,384 404,386.2 404,393 404,395.3 404,399.8 404,402.1 404,404.3 405,341 405,345.6 405,350.1 405,352.3 405,354.6 405,356.9 405,361.4 405,363.6 405,365.9 405,374.9 405,377.2 405,379.5 405,381.7 405,388.5 405,390.8 405,393 405,399.8 406,329.7 406,341 406,343.3 406,345.6 406,347.8 406,350.1 406,352.3 406,354.6 406,356.9 406,359.1 406,361.4 406,363.6 406,365.9 406,368.2 406,370.4 406,372.7 406,374.9 406,377.2 406,379.5 406,381.7 406,384 406,386.2 406,388.5 407,341 407,343.3 407,345.6 407,347.8 407,350.1 407,352.3 407,354.6 407,356.9 407,359.1 407,361.4 407,363.6 407,365.9 407,368.2 407,370.4 407,372.7 407,374.9 407,377.2 407,379.5 407,381.7 407,384 407,386.2 407,388.5 407,390.8 407,393 407,395.3 407,397.5 408,347.8 408,350.1 408,352.3 408,354.6 408,356.9 408,359.1 408,361.4 408,363.6 408,365.9 408,368.2 408,370.4 408,372.7 408,374.9 408,377.2 408,379.5 408,381.7 408,384 408,386.2 408,388.5 408,390.8 408,393 408,395.3 408,397.5 408,399.8 408,404.3 408,406.6 409,350.1 409,352.3 409,354.6 409,356.9 409,359.1 409,361.4 409,363.6 409,365.9 409,368.2 409,370.4 409,372.7 409,374.9 409,377.2 409,379.5 409,381.7 409,384 409,386.2 409,388.5 409,402.1 410,345.6 410,347.8 410,350.1 410,352.3 410,354.6 410,356.9 410,359.1 410,361.4 410,363.6 410,365.9 410,368.2 410,370.4 410,372.7 410,374.9 410,377.2 410,379.5 410,381.7 410,384 410,386.2 410,388.5 411,347.8 411,350.1 411,352.3 411,354.6 411,356.9 411,359.1 411,361.4 411,363.6 411,365.9 411,368.2 411,370.4 411,372.7 411,374.9 411,377.2 411,379.5 411,381.7 411,384 411,386.2 411,388.5 411,402.1 412,350.1 412,352.3 412,354.6 412,356.9 412,359.1 412,361.4 412,363.6 412,365.9 412,368.2 412,370.4 412,372.7 412,374.9 412,377.2 412,379.5 412,381.7 412,384 413,336.5 413,350.1 413,354.6 413,356.9 413,359.1 413,361.4 413,363.6 413,365.9 413,368.2 413,370.4 413,372.7 413,374.9 413,377.2 413,379.5 413,381.7 413,384 413,386.2 414,345.6 414,347.8 414,350.1 414,352.3 414,354.6 414,356.9 414,359.1 414,361.4 414,363.6 414,368.2 414,370.4 414,372.7 414,374.9 414,377.2 415,341 415,343.3 415,345.6 415,347.8 415,350.1 415,352.3 415,354.6 415,356.9 415,359.1 415,361.4 415,363.6 415,368.2 415,370.4 415,372.7 415,374.9 416,341 416,345.6 416,350.1 416,354.6 416,359.1 416,361.4 416,363.6 416,368.2 416,370.4 416,372.7 417,334.3 417,341 417,343.3 417,345.6 417,350.1 417,352.3 417,354.6 417,356.9 417,359.1 417,361.4 417,363.6 417,365.9 417,368.2 417,370.4 418,338.8 418,341 418,343.3 418,345.6 418,347.8 418,350.1 418,352.3 418,354.6 418,356.9 418,359.1 418,361.4 418,363.6 418,365.9 418,370.4 419,345.6 419,347.8 419,350.1 419,352.3 419,354.6 419,359.1 419,361.4 419,363.6 419,365.9 419,370.4 419,372.7 419,374.9 420,336.5 420,338.8 420,341 420,343.3 420,345.6 420,347.8 420,350.1 420,352.3 420,354.6 420,356.9 420,359.1 420,361.4 420,363.6 420,365.9 420,368.2 420,370.4 420,372.7 420,377.2 421,338.8 421,341 421,343.3 421,345.6 421,347.8 421,350.1 421,352.3 421,354.6 421,356.9 421,359.1 421,361.4 421,363.6 421,365.9 421,368.2 421,370.4 421,372.7 421,374.9 421,377.2 421,379.5 421,381.7 422,336.5 422,338.8 422,341 422,343.3 422,345.6 422,347.8 422,350.1 422,352.3 422,354.6 422,356.9 422,359.1 422,361.4 422,363.6 422,365.9 422,368.2 422,370.4 422,372.7 422,374.9 422,377.2 423,327.5 423,343.3 423,345.6 423,347.8 423,350.1 423,352.3 423,354.6 423,359.1 423,361.4 423,363.6 423,365.9 423,368.2 423,370.4 423,372.7 423,374.9 423,377.2 423,379.5 423,381.7 424,338.8 424,352.3 424,354.6 424,356.9 424,359.1 424,361.4 424,363.6 424,365.9 424,368.2 424,370.4 424,372.7 424,374.9 424,377.2 424,379.5 424,381.7 424,384 424,386.2 424,388.5 424,390.8 424,393 424,395.3 424,397.5 424,399.8 424,402.1 424,408.8 425,361.4 425,365.9 425,368.2 425,370.4 425,372.7 425,374.9 425,377.2 425,379.5 425,381.7 425,384 425,386.2 425,388.5 425,393 425,397.5 425,399.8 425,402.1 425,406.6 425,408.8 425,415.6 425,417.9 425,420.1 425,422.4 425,424.7 426,370.4 426,384 426,388.5 426,390.8 426,393 426,395.3 426,402.1 426,404.3 426,408.8 426,411.1 426,413.4 426,417.9 426,420.1 426,422.4 427,384 427,395.3 427,397.5 427,399.8 427,406.6 427,411.1 427,415.6 428,388.5 428,390.8 428,393 428,395.3 428,397.5 428,402.1 428,406.6 428,408.8 428,411.1 428,413.4 428,415.6 428,417.9 428,420.1 428,422.4 428,424.7 428,426.9 428,429.2 428,431.4 428,440.5 429,390.8 429,393 429,395.3 429,397.5 429,399.8 429,402.1 429,404.3 429,406.6 429,408.8 429,411.1 429,413.4 429,415.6 429,417.9 429,420.1 429,422.4 429,424.7 429,429.2 429,431.4 429,433.7 429,436 429,438.2 429,440.5 429,445 430,390.8 430,393 430,395.3 430,397.5 430,399.8 430,402.1 430,404.3 430,406.6 430,408.8 430,411.1 430,413.4 430,415.6 430,417.9 430,420.1 430,422.4 430,424.7 430,426.9 431,388.5 431,390.8 431,393 431,395.3 431,397.5 431,402.1 431,404.3 431,406.6 431,408.8 431,411.1 431,413.4 431,415.6 431,417.9 431,420.1 431,424.7 431,426.9 431,429.2 431,431.4 431,433.7 432,388.5 432,390.8 432,393 432,395.3 432,397.5 432,399.8 432,402.1 432,404.3 432,406.6 432,408.8 432,411.1 432,413.4 432,415.6 432,417.9 432,420.1 432,422.4 432,424.7 432,426.9 433,381.7 433,386.2 433,388.5 433,390.8 433,393 433,395.3 433,397.5 433,399.8 433,402.1 433,404.3 433,406.6 433,408.8 433,411.1 433,413.4 433,415.6 433,417.9 433,420.1 433,422.4 433,424.7 433,426.9 433,429.2 433,431.4 433,433.7 433,436 433,438.2 434,377.2 434,384 434,386.2 434,393 434,395.3 434,397.5 434,399.8 434,402.1 434,404.3 434,411.1 434,413.4 434,415.6 435,370.4 435,372.7 435,374.9 435,377.2 435,379.5 435,381.7 435,384 435,388.5 435,390.8 435,393 435,395.3 435,399.8 435,402.1 435,404.3 436,359.1 436,363.6 436,365.9 436,368.2 436,370.4 436,372.7 436,374.9 436,379.5 436,381.7 436,388.5 436,393 436,395.3 436,399.8 437,354.6 437,356.9 437,359.1 437,361.4 437,363.6 437,365.9 437,370.4 437,372.7 437,374.9 437,377.2 437,379.5 437,381.7 437,384 437,386.2 437,390.8 437,393 437,395.3 438,350.1 438,352.3 438,359.1 438,372.7 438,377.2 438,381.7 438,386.2 438,388.5 438,390.8 438,393 439,327.5 439,343.3 439,347.8 439,350.1 439,354.6 439,359.1 439,363.6 439,370.4 439,377.2 439,379.5 439,381.7 439,384 440,329.7 440,336.5 440,338.8 440,341 440,343.3 440,345.6 440,347.8 440,352.3 440,359.1 440,361.4 440,368.2 440,372.7 440,377.2 440,381.7 440,384 441,329.7 441,338.8 441,341 441,343.3 441,350.1 441,352.3 441,354.6 441,356.9 441,359.1 441,361.4 441,365.9 441,368.2 441,370.4 441,372.7 441,374.9 441,377.2 441,379.5 441,397.5 442,332 442,336.5 442,341 442,343.3 442,345.6 442,347.8 442,350.1 442,352.3 442,354.6 442,359.1 442,361.4 442,363.6 442,368.2 442,377.2 443,332 443,334.3 443,336.5 443,338.8 443,341 443,343.3 443,345.6 443,347.8 443,350.1 443,352.3 443,354.6 443,356.9 443,361.4 443,363.6 443,365.9 443,370.4 443,372.7 443,374.9 444,329.7 444,332 444,334.3 444,336.5 444,338.8 444,341 444,343.3 444,345.6 444,347.8 444,350.1 444,352.3 444,354.6 444,356.9 444,359.1 444,361.4 444,363.6 444,365.9 444,368.2 444,370.4 444,372.7 444,374.9 444,377.2 444,379.5 444,381.7 445,327.5 445,329.7 445,332 445,334.3 445,336.5 445,338.8 445,341 445,343.3 445,345.6 445,347.8 445,350.1 445,352.3 445,354.6 445,356.9 445,359.1 445,361.4 445,363.6 445,365.9 445,368.2 445,370.4 445,372.7 445,374.9 445,377.2 445,379.5 446,325.2 446,327.5 446,329.7 446,332 446,334.3 446,336.5 446,338.8 446,341 446,343.3 446,345.6 446,347.8 446,350.1 446,352.3 446,354.6 446,356.9 446,359.1 446,361.4 446,363.6 446,365.9 446,368.2 446,370.4 446,372.7 446,374.9 446,377.2 446,379.5 447,332 447,334.3 447,336.5 447,338.8 447,341 447,345.6 447,347.8 447,350.1 447,352.3 447,354.6 447,356.9 447,359.1 447,361.4 447,363.6 447,365.9 447,368.2 447,370.4 447,372.7 447,374.9 447,377.2 447,379.5 447,381.7 447,384 447,386.2 447,390.8 448,329.7 448,332 448,334.3 448,336.5 448,338.8 448,341 448,343.3 448,345.6 448,347.8 448,350.1 448,352.3 448,354.6 448,356.9 448,359.1 448,361.4 448,365.9 448,368.2 448,370.4 448,377.2 449,325.2 449,327.5 449,329.7 449,332 449,334.3 449,336.5 449,338.8 449,341 449,343.3 449,345.6 449,347.8 449,350.1 449,352.3 449,354.6 449,356.9 449,359.1 449,361.4 449,363.6 449,368.2 449,370.4 449,372.7 449,374.9 449,377.2 449,379.5 449,381.7 449,386.2 450,325.2 450,327.5 450,329.7 450,332 450,334.3 450,336.5 450,338.8 450,341 450,343.3 450,345.6 450,347.8 450,350.1 450,352.3 450,354.6 450,356.9 450,359.1 450,361.4 450,363.6 450,365.9 450,370.4 450,372.7 450,374.9 450,379.5 450,384 451,325.2 451,327.5 451,329.7 451,332 451,334.3 451,336.5 451,341 451,343.3 451,345.6 451,347.8 451,350.1 451,352.3 451,354.6 451,356.9 451,359.1 451,361.4 451,363.6 451,365.9 451,368.2 451,370.4 451,372.7 451,374.9 451,377.2 451,379.5 451,381.7 451,384 451,388.5 451,390.8 451,393 452,325.2 452,327.5 452,329.7 452,332 452,334.3 452,336.5 452,338.8 452,341 452,343.3 452,345.6 452,347.8 452,350.1 452,354.6 452,356.9 452,359.1 452,361.4 452,363.6 452,365.9 452,368.2 452,370.4 452,372.7 452,374.9 452,377.2 452,379.5 452,381.7 452,384 452,386.2 452,393 453,320.7 453,323 453,325.2 453,327.5 453,329.7 453,332 453,334.3 453,336.5 453,338.8 453,341 453,343.3 453,345.6 453,347.8 453,350.1 453,352.3 453,354.6 453,356.9 453,359.1 453,361.4 453,363.6 453,365.9 453,368.2 453,370.4 453,372.7 453,374.9 453,377.2 453,379.5 453,381.7 453,384 453,386.2 454,329.7 454,334.3 454,343.3 454,345.6 454,350.1 454,352.3 454,354.6 454,368.2 454,374.9 454,379.5 455,332 455,336.5 455,352.3 455,356.9 455,361.4 455,363.6 456,332 456,334.3 456,336.5 456,338.8 456,341 456,345.6 456,347.8 456,350.1 456,352.3 456,354.6 456,356.9 456,359.1 456,361.4 456,363.6 456,365.9 456,368.2 456,370.4 456,372.7 457,334.3 457,336.5 457,338.8 457,341 457,343.3 457,347.8 457,350.1 457,352.3 457,354.6 457,356.9 457,359.1 457,361.4 457,363.6 457,365.9 457,368.2 457,370.4 457,372.7 458,327.5 458,345.6 458,347.8 458,350.1 458,352.3 458,354.6 458,361.4 458,372.7 458,377.2 458,379.5 459,334.3 459,338.8 459,341 459,343.3 459,350.1 459,352.3 459,354.6 459,356.9 459,359.1 459,368.2 459,370.4 459,372.7 459,386.2 460,334.3 460,336.5 460,338.8 460,341 460,343.3 460,345.6 460,347.8 460,350.1 460,352.3 460,354.6 460,356.9 460,359.1 460,361.4 460,363.6 460,365.9 460,368.2 460,370.4 460,372.7 460,374.9 460,377.2 460,379.5 461,332 461,334.3 461,336.5 461,338.8 461,341 461,343.3 461,345.6 461,347.8 461,350.1 461,352.3 461,354.6 461,356.9 461,359.1 461,361.4 461,363.6 461,365.9 461,368.2 461,370.4 461,372.7 461,374.9 461,377.2 461,386.2 462,332 462,334.3 462,336.5 462,338.8 462,341 462,343.3 462,345.6 462,347.8 462,350.1 462,352.3 462,354.6 462,356.9 462,359.1 462,361.4 462,363.6 462,365.9 462,368.2 462,370.4 462,372.7 462,374.9 462,377.2 462,379.5 462,384 463,323 463,334.3 463,336.5 463,338.8 463,341 463,343.3 463,345.6 463,347.8 463,350.1 463,352.3 463,354.6 463,356.9 463,359.1 463,361.4 463,363.6 463,365.9 463,368.2 463,370.4 463,372.7 463,374.9 463,377.2 463,379.5 464,329.7 464,334.3 464,336.5 464,338.8 464,341 464,343.3 464,345.6 464,347.8 464,350.1 464,352.3 464,354.6 464,356.9 464,359.1 464,361.4 464,363.6 464,365.9 464,368.2 464,370.4 464,372.7 464,374.9 464,377.2 464,379.5 464,381.7 464,384 464,386.2 464,388.5 465,338.8 465,341 465,345.6 465,347.8 465,350.1 465,354.6 465,356.9 465,363.6 465,365.9 465,368.2 465,370.4 465,372.7 465,374.9 465,377.2 465,379.5 466,325.2 466,329.7 466,332 466,334.3 466,336.5 466,338.8 466,341 466,343.3 466,345.6 466,350.1 466,352.3 466,354.6 466,359.1 466,361.4 466,365.9 466,368.2 466,370.4 466,372.7 466,377.2 466,379.5 466,381.7 466,384 466,393 467,320.7 467,325.2 467,327.5 467,329.7 467,332 467,334.3 467,336.5 467,338.8 467,341 467,343.3 467,345.6 467,347.8 467,350.1 467,352.3 467,354.6 467,356.9 467,359.1 467,361.4 467,363.6 467,365.9 467,368.2 467,370.4 467,372.7 467,374.9 467,377.2 467,381.7 467,386.2 468,329.7 468,332 468,334.3 468,336.5 468,338.8 468,341 468,343.3 468,345.6 468,347.8 468,350.1 468,352.3 468,354.6 468,356.9 468,359.1 468,361.4 468,363.6 468,365.9 468,368.2 468,370.4 468,372.7 468,374.9 468,377.2 468,379.5 468,381.7 469,334.3 469,336.5 469,338.8 469,343.3 469,345.6 469,347.8 469,350.1 469,352.3 469,354.6 469,356.9 469,359.1 469,361.4 469,368.2 469,372.7 469,374.9 469,377.2 469,379.5 469,381.7 469,386.2 469,397.5 470,329.7 470,332 470,334.3 470,336.5 470,338.8 470,341 470,343.3 470,345.6 470,347.8 470,350.1 470,352.3 470,354.6 470,356.9 470,359.1 470,361.4 470,363.6 470,365.9 470,368.2 470,370.4 470,372.7 470,374.9 470,377.2 470,379.5 470,381.7 470,384 470,386.2 470,388.5 470,390.8 470,393 470,397.5 470,399.8 471,318.4 471,336.5 471,345.6 471,347.8 471,350.1 471,352.3 471,354.6 471,356.9 471,359.1 471,361.4 471,363.6 471,368.2 471,370.4 471,372.7 471,374.9 471,390.8 472,323 472,336.5 472,338.8 472,341 472,343.3 472,345.6 472,347.8 472,350.1 472,352.3 472,354.6 472,356.9 472,361.4 472,363.6 472,365.9 472,368.2 472,370.4 472,372.7 472,374.9 472,377.2 472,379.5 472,381.7 472,384 473,338.8 473,341 473,343.3 473,345.6 473,347.8 473,350.1 473,352.3 473,354.6 473,356.9 473,359.1 473,361.4 473,363.6 473,365.9 473,370.4 473,372.7 473,374.9 473,377.2 473,379.5 473,381.7 473,384 474,338.8 474,341 474,343.3 474,345.6 474,347.8 474,350.1 474,352.3 474,354.6 474,356.9 474,359.1 474,361.4 474,363.6 474,365.9 474,368.2 474,370.4 474,372.7 474,374.9 474,377.2 474,379.5 474,381.7 475,343.3 475,345.6 475,347.8 475,350.1 475,352.3 475,354.6 475,356.9 475,359.1 475,361.4 475,363.6 475,365.9 475,368.2 475,370.4 475,372.7 475,374.9 475,377.2 475,379.5 475,381.7 475,384 476,350.1 476,352.3 476,354.6 476,356.9 476,359.1 476,361.4 476,363.6 476,365.9 476,368.2 476,370.4 476,372.7 476,374.9 476,377.2 476,379.5 476,381.7 477,338.8 477,345.6 477,359.1 477,368.2 477,377.2 477,388.5 478,352.3 478,356.9 478,359.1 478,361.4 478,363.6 478,365.9 478,372.7 478,374.9 478,379.5 479,334.3 479,345.6 479,347.8 479,356.9 479,359.1 479,361.4 479,363.6 479,365.9 479,368.2 479,370.4 479,372.7 479,374.9 479,377.2 479,379.5 480,341 480,343.3 480,345.6 480,350.1 480,352.3 480,354.6 480,356.9 480,359.1 480,361.4 480,363.6 480,365.9 480,368.2 480,370.4 480,372.7 480,374.9 480,377.2 480,381.7 480,384 480,386.2 480,388.5 480,390.8 480,393 480,395.3 480,402.1 481,338.8 481,341 481,343.3 481,345.6 481,347.8 481,350.1 481,352.3 481,354.6 481,356.9 481,359.1 481,361.4 481,363.6 481,365.9 481,368.2 481,370.4 481,372.7 481,374.9 481,377.2 481,379.5 481,381.7 481,384 481,388.5 481,402.1 482,336.5 482,338.8 482,341 482,343.3 482,345.6 482,347.8 482,350.1 482,352.3 482,354.6 482,356.9 482,359.1 482,361.4 482,363.6 482,365.9 482,368.2 482,370.4 482,372.7 482,374.9 482,377.2 482,379.5 482,381.7 482,384 482,386.2 482,388.5 482,390.8 482,393 482,395.3 483,318.4 483,338.8 483,341 483,343.3 483,345.6 483,347.8 483,352.3 483,354.6 483,356.9 483,359.1 483,361.4 483,363.6 483,365.9 483,368.2 483,370.4 483,374.9 483,377.2 483,379.5 483,381.7 483,384 483,386.2 483,388.5 483,390.8 483,393 483,404.3 484,318.4 484,341 484,343.3 484,347.8 484,350.1 484,352.3 484,354.6 484,356.9 484,359.1 484,361.4 484,363.6 484,365.9 484,368.2 484,370.4 484,374.9 484,377.2 484,379.5 484,381.7 485,336.5 485,338.8 485,341 485,343.3 485,345.6 485,347.8 485,350.1 485,352.3 485,354.6 485,356.9 485,361.4 485,363.6 485,365.9 485,370.4 485,372.7 485,377.2 485,381.7 485,384 485,386.2 486,332 486,341 486,343.3 486,345.6 486,347.8 486,350.1 486,354.6 486,359.1 486,363.6 486,368.2 486,370.4 486,372.7 487,334.3 487,336.5 487,338.8 487,341 487,343.3 487,345.6 487,347.8 487,350.1 487,352.3 487,354.6 487,356.9 487,359.1 487,361.4 487,363.6 487,365.9 487,368.2 487,370.4 487,372.7 487,374.9 488,334.3 488,336.5 488,338.8 488,341 488,343.3 488,345.6 488,347.8 488,350.1 488,352.3 488,354.6 488,356.9 488,359.1 488,361.4 488,363.6 488,365.9 488,368.2 488,370.4 488,372.7 488,374.9 489,338.8 489,341 489,347.8 489,350.1 489,352.3 489,354.6 489,359.1 489,361.4 489,363.6 489,365.9 489,368.2 489,370.4 489,372.7 490,327.5 490,332 490,334.3 490,336.5 490,341 490,345.6 490,350.1 490,352.3 490,356.9 490,359.1 490,361.4 490,363.6 490,365.9 490,368.2 490,372.7 491,334.3 491,336.5 491,338.8 491,341 491,343.3 491,345.6 491,347.8 491,350.1 491,352.3 491,354.6 491,356.9 491,359.1 491,361.4 491,363.6 491,365.9 491,368.2 491,370.4 491,372.7 491,374.9 491,377.2 492,334.3 492,336.5 492,338.8 492,341 492,343.3 492,345.6 492,347.8 492,350.1 492,352.3 492,354.6 492,356.9 492,359.1 492,361.4 492,363.6 492,365.9 492,368.2 492,370.4 492,372.7 493,325.2 493,332 493,334.3 493,336.5 493,338.8 493,341 493,343.3 493,345.6 493,347.8 493,350.1 493,352.3 493,354.6 493,356.9 493,359.1 493,361.4 493,363.6 493,365.9 493,368.2 493,370.4 493,372.7 493,374.9 493,377.2 493,379.5 493,381.7 494,325.2 494,336.5 494,338.8 494,343.3 494,345.6 494,347.8 494,350.1 494,354.6 494,356.9 494,359.1 494,361.4 494,363.6 494,368.2 494,370.4 494,372.7 494,377.2 494,379.5 494,386.2 494,390.8 494,395.3 494,397.5 494,399.8 494,402.1 495,323 495,336.5 495,343.3 495,345.6 495,350.1 495,356.9 495,361.4 495,365.9 495,370.4 495,372.7 496,316.2 496,327.5 496,329.7 496,332 496,334.3 496,336.5 496,338.8 496,341 496,343.3 496,345.6 496,347.8 496,350.1 496,352.3 496,354.6 496,356.9 496,359.1 496,361.4 496,363.6 496,365.9 496,368.2 496,370.4 496,372.7 496,388.5 497,329.7 497,332 497,334.3 497,336.5 497,338.8 497,341 497,343.3 497,345.6 497,347.8 497,350.1 497,352.3 497,354.6 497,356.9 497,359.1 497,361.4 497,363.6 497,365.9 497,368.2 497,370.4 497,372.7 497,377.2 498,327.5 498,338.8 498,345.6 498,350.1 498,352.3 498,354.6 498,359.1 498,363.6 498,365.9 498,374.9 498,379.5 499,334.3 499,336.5 499,338.8 499,343.3 499,345.6 499,347.8 499,350.1 499,354.6 499,356.9 499,359.1 499,361.4 499,363.6 499,365.9 499,368.2 499,377.2 499,379.5 499,384 499,390.8 500,327.5 500,334.3 500,336.5 500,338.8 500,341 500,343.3 500,350.1 500,354.6 500,359.1 500,363.6 500,365.9 500,372.7 500,374.9 500,379.5 500,381.7 500,384 500,388.5 500,390.8 500,406.6 501,332 501,336.5 501,338.8 501,343.3 501,350.1 501,352.3 501,356.9 501,359.1 501,361.4 501,365.9 501,368.2 501,370.4 501,372.7 501,374.9 501,379.5 501,381.7 501,386.2 501,393 502,327.5 502,338.8 502,341 502,343.3 502,345.6 502,347.8 502,350.1 502,352.3 502,354.6 502,356.9 502,359.1 502,361.4 502,363.6 502,365.9 502,368.2 502,370.4 502,372.7 502,374.9 502,377.2 502,379.5 502,381.7 502,384 502,386.2 502,390.8 502,393 502,395.3 502,397.5 502,399.8 502,402.1 503,327.5 503,329.7 503,332 503,338.8 503,347.8 503,350.1 503,354.6 503,359.1 503,363.6 503,365.9 503,374.9 503,377.2 503,381.7 504,341 504,343.3 504,347.8 504,356.9 504,359.1 504,363.6 504,365.9 505,336.5 505,341 505,343.3 505,345.6 505,347.8 505,350.1 505,354.6 505,356.9 505,359.1 505,361.4 505,363.6 505,365.9 505,368.2 505,370.4 505,372.7 505,374.9 505,377.2 505,379.5 505,381.7 505,384 505,386.2 505,388.5 505,390.8 505,393 506,311.7 506,323 506,325.2 506,327.5 506,329.7 506,332 506,334.3 506,336.5 506,338.8 506,341 506,343.3 506,345.6 506,347.8 506,352.3 506,354.6 506,356.9 506,359.1 506,361.4 506,363.6 506,365.9 506,368.2 506,370.4 506,372.7 506,374.9 507,323 507,325.2 507,327.5 507,329.7 507,332 507,334.3 507,336.5 507,338.8 507,341 507,345.6 507,347.8 507,350.1 507,352.3 507,354.6 507,356.9 507,359.1 507,361.4 507,363.6 507,365.9 507,368.2 507,370.4 507,372.7 508,325.2 508,327.5 508,332 508,336.5 508,338.8 508,341 508,343.3 508,347.8 508,352.3 508,354.6 508,356.9 508,359.1 508,361.4 508,363.6 508,365.9 508,368.2 508,372.7 508,374.9 508,379.5 508,381.7 508,386.2 508,388.5 509,320.7 509,323 509,325.2 509,327.5 509,332 509,338.8 509,347.8 509,350.1 509,352.3 509,354.6 509,356.9 509,359.1 509,363.6 509,365.9 509,370.4 509,372.7 509,374.9 509,377.2 509,379.5 509,384 509,388.5 509,404.3 510,313.9 510,320.7 510,323 510,325.2 510,327.5 510,329.7 510,332 510,334.3 510,336.5 510,338.8 510,341 510,343.3 510,345.6 510,347.8 510,350.1 510,352.3 510,354.6 510,356.9 510,359.1 510,361.4 510,363.6 510,365.9 510,368.2 510,370.4 510,372.7 510,374.9 510,377.2 510,379.5 510,381.7 510,384 510,386.2 510,388.5 510,390.8 510,393 510,395.3 510,397.5 510,399.8 510,402.1 511,318.4 511,320.7 511,323 511,325.2 511,327.5 511,329.7 511,332 511,334.3 511,336.5 511,338.8 511,341 511,345.6 511,347.8 511,350.1 511,352.3 511,354.6 511,356.9 511,359.1 511,363.6 511,365.9 511,368.2 511,372.7 511,374.9 511,377.2 511,379.5 511,381.7 511,384 511,386.2 511,388.5 511,390.8 511,393 511,395.3 512,313.9 512,316.2 512,318.4 512,320.7 512,323 512,325.2 512,327.5 512,329.7 512,332 512,334.3 512,336.5 512,338.8 512,341 512,343.3 512,345.6 512,347.8 512,350.1 512,352.3 512,354.6 512,356.9 512,359.1 512,361.4 512,363.6 512,365.9 512,368.2 512,370.4 512,372.7 512,377.2 512,379.5 512,381.7 512,384 512,386.2 512,388.5 512,390.8 512,397.5 513,316.2 513,318.4 513,320.7 513,323 513,327.5 513,329.7 513,334.3 513,336.5 513,338.8 513,341 513,343.3 513,345.6 513,347.8 513,350.1 513,352.3 513,354.6 513,356.9 513,359.1 513,361.4 513,363.6 513,365.9 513,368.2 513,370.4 513,372.7 513,374.9 513,377.2 513,379.5 513,381.7 513,384 513,388.5 514,309.4 514,313.9 514,318.4 514,323 514,325.2 514,327.5 514,329.7 514,332 514,334.3 514,341 514,343.3 514,345.6 514,347.8 514,350.1 514,352.3 514,354.6 514,356.9 514,359.1 514,363.6 514,365.9 514,368.2 514,372.7 514,399.8 515,332 515,334.3 515,336.5 515,338.8 515,341 515,345.6 515,347.8 515,350.1 515,354.6 515,356.9 515,359.1 515,361.4 515,365.9 515,384 516,329.7 516,334.3 516,336.5 516,338.8 516,341 516,343.3 516,345.6 516,350.1 516,354.6 516,356.9 516,359.1 516,361.4 516,368.2 516,370.4 516,374.9 517,318.4 517,336.5 517,338.8 517,343.3 517,347.8 517,350.1 517,352.3 517,354.6 517,356.9 517,359.1 517,361.4 517,365.9 517,368.2 517,370.4 517,372.7 517,374.9 517,384 517,390.8 517,393 518,329.7 518,332 518,334.3 518,336.5 518,338.8 518,341 518,343.3 518,345.6 518,347.8 518,350.1 518,352.3 518,354.6 518,356.9 518,359.1 518,361.4 518,363.6 518,365.9 518,368.2 518,370.4 518,372.7 518,374.9 518,377.2 518,379.5 518,381.7 519,325.2 519,327.5 519,329.7 519,332 519,334.3 519,336.5 519,343.3 519,350.1 519,354.6 519,356.9 519,361.4 519,363.6 519,365.9 519,368.2 519,370.4 519,372.7 519,374.9 519,379.5 519,381.7 520,313.9 520,320.7 520,325.2 520,327.5 520,329.7 520,332 520,334.3 520,336.5 520,338.8 520,341 520,343.3 520,345.6 520,347.8 520,354.6 520,356.9 520,359.1 520,361.4 520,365.9 520,368.2 520,370.4 521,311.7 521,313.9 521,316.2 521,318.4 521,320.7 521,323 521,325.2 521,327.5 521,329.7 521,332 521,334.3 521,336.5 521,338.8 521,341 521,343.3 521,345.6 521,347.8 521,350.1 521,352.3 521,354.6 521,356.9 521,359.1 521,361.4 521,363.6 521,365.9 521,368.2 521,370.4 521,372.7 521,374.9 521,377.2 521,379.5 521,381.7 521,384 522,318.4 522,325.2 522,334.3 522,336.5 522,343.3 522,350.1 522,352.3 522,361.4 522,363.6 523,320.7 523,323 523,325.2 523,327.5 523,329.7 523,332 523,334.3 523,336.5 523,338.8 523,341 523,343.3 523,345.6 523,347.8 523,350.1 523,352.3 523,354.6 523,356.9 523,359.1 523,361.4 523,363.6 523,365.9 523,368.2 523,370.4 523,372.7 523,374.9 523,377.2 523,381.7 524,323 524,325.2 524,329.7 524,332 524,334.3 524,336.5 524,338.8 524,341 524,343.3 524,345.6 524,347.8 524,350.1 524,352.3 524,354.6 524,356.9 524,359.1 524,361.4 524,363.6 524,365.9 524,368.2 524,370.4 524,372.7 524,374.9 524,377.2 524,379.5 524,381.7 524,384 525,323 525,327.5 525,329.7 525,336.5 525,338.8 525,343.3 525,345.6 525,350.1 525,352.3 525,356.9 525,359.1 525,361.4 525,365.9 525,368.2 525,370.4 525,377.2 526,320.7 526,325.2 526,329.7 526,332 526,336.5 526,338.8 526,345.6 526,347.8 526,352.3 526,354.6 526,356.9 526,359.1 526,361.4 526,365.9 526,368.2 526,370.4 526,374.9 527,325.2 527,329.7 527,332 527,334.3 527,336.5 527,338.8 527,341 527,343.3 527,347.8 527,350.1 527,356.9 527,359.1 527,363.6 527,381.7 528,332 528,334.3 528,341 528,345.6 528,350.1 528,354.6 528,356.9 528,359.1 528,361.4 528,363.6 528,365.9 529,329.7 529,332 529,334.3 529,336.5 529,338.8 529,341 529,343.3 529,345.6 529,347.8 529,350.1 529,352.3 529,354.6 529,356.9 529,359.1 529,361.4 529,363.6 529,365.9 530,318.4 530,332 530,334.3 530,336.5 530,338.8 530,341 530,343.3 530,345.6 530,347.8 530,350.1 530,352.3 530,354.6 530,356.9 530,359.1 530,361.4 530,363.6 530,365.9 530,368.2 531,320.7 531,329.7 531,332 531,334.3 531,336.5 531,338.8 531,343.3 531,345.6 531,347.8 531,350.1 531,354.6 531,356.9 531,359.1 531,361.4 531,363.6 531,368.2 531,379.5 532,327.5 532,329.7 532,336.5 532,338.8 532,347.8 532,350.1 532,354.6 533,313.9 533,323 533,327.5 533,329.7 533,332 533,334.3 533,336.5 533,343.3 533,347.8 533,352.3 533,354.6 534,318.4 534,327.5 534,329.7 534,332 534,336.5 534,338.8 534,341 534,345.6 534,347.8 534,354.6 534,356.9 534,359.1 534,361.4 534,363.6 534,370.4 534,372.7 535,323 535,327.5 535,329.7 535,332 535,334.3 535,336.5 535,338.8 535,341 535,343.3 535,345.6 535,347.8 535,350.1 535,352.3 535,354.6 535,356.9 535,359.1 535,361.4 535,363.6 535,365.9 535,368.2 535,370.4 535,372.7 535,374.9 535,377.2 535,379.5 535,381.7 535,384 535,386.2 536,323 536,325.2 536,327.5 536,329.7 536,332 536,334.3 536,336.5 536,338.8 536,341 536,343.3 536,345.6 536,347.8 536,350.1 536,352.3 536,354.6 536,356.9 536,359.1 536,361.4 536,363.6 536,365.9 536,368.2 536,370.4 536,374.9 536,377.2 536,379.5 536,381.7 536,384 536,386.2 536,388.5 536,390.8 537,320.7 537,323 537,325.2 537,327.5 537,329.7 537,332 537,334.3 537,336.5 537,338.8 537,341 537,345.6 537,347.8 537,350.1 537,352.3 537,354.6 537,356.9 537,359.1 537,361.4 537,363.6 537,365.9 537,368.2 537,370.4 537,372.7 537,374.9 537,377.2 537,379.5 537,381.7 537,384 537,386.2 538,311.7 538,313.9 538,316.2 538,318.4 538,320.7 538,323 538,325.2 538,327.5 538,329.7 538,332 538,334.3 538,336.5 538,338.8 538,341 538,343.3 538,345.6 538,347.8 538,350.1 538,352.3 538,354.6 538,356.9 538,359.1 538,361.4 538,363.6 538,365.9 538,368.2 538,370.4 538,372.7 538,374.9 538,377.2 538,379.5 538,381.7 538,384 538,386.2 538,388.5 538,390.8 538,393 538,395.3 539,318.4 539,320.7 539,323 539,325.2 539,327.5 539,329.7 539,332 539,334.3 539,336.5 539,338.8 539,341 539,343.3 539,345.6 539,347.8 539,350.1 539,352.3 539,354.6 539,356.9 539,359.1 539,361.4 539,363.6 539,365.9 539,368.2 539,370.4 539,372.7 539,374.9 539,377.2 539,379.5 539,381.7 539,384 539,386.2 539,388.5 539,390.8 539,393 539,395.3 539,397.5 539,399.8 540,316.2 540,318.4 540,320.7 540,323 540,325.2 540,327.5 540,329.7 540,332 540,334.3 540,336.5 540,338.8 540,341 540,343.3 540,345.6 540,347.8 540,350.1 540,352.3 540,354.6 540,356.9 540,359.1 540,361.4 540,363.6 540,365.9 540,368.2 540,370.4 540,372.7 540,374.9 540,377.2 540,379.5 540,381.7 540,384 540,386.2 540,388.5 540,395.3 541,323 541,325.2 541,327.5 541,329.7 541,332 541,334.3 541,336.5 541,338.8 541,341 541,343.3 541,345.6 541,347.8 541,350.1 541,352.3 541,354.6 541,356.9 541,359.1 541,361.4 541,363.6 541,365.9 541,368.2 541,370.4 541,372.7 541,374.9 541,377.2 541,379.5 541,381.7 541,384 542,316.2 542,318.4 542,320.7 542,325.2 542,327.5 542,329.7 542,332 542,334.3 542,338.8 542,341 542,343.3 542,345.6 542,347.8 542,350.1 542,352.3 542,354.6 542,356.9 542,359.1 542,361.4 542,363.6 542,365.9 542,368.2 542,370.4 542,372.7 542,374.9 543,302.6 543,316.2 543,318.4 543,320.7 543,323 543,325.2 543,327.5 543,329.7 543,332 543,334.3 543,336.5 543,338.8 543,341 543,343.3 543,345.6 543,347.8 543,350.1 543,352.3 543,354.6 543,356.9 543,359.1 543,361.4 543,363.6 543,365.9 543,368.2 543,370.4 543,372.7 543,374.9 543,377.2 544,320.7 544,323 544,325.2 544,327.5 544,329.7 544,332 544,334.3 544,336.5 544,338.8 544,341 544,343.3 544,345.6 544,347.8 544,350.1 544,352.3 544,354.6 544,356.9 544,359.1 544,361.4 544,363.6 544,365.9 544,368.2 545,313.9 545,318.4 545,320.7 545,323 545,325.2 545,329.7 545,332 545,334.3 545,336.5 545,338.8 545,345.6 545,347.8 545,350.1 545,352.3 545,354.6 545,356.9 545,359.1 545,361.4 545,363.6 545,365.9 545,370.4 545,372.7 545,374.9 545,377.2 545,379.5 545,381.7 545,384 545,388.5 545,390.8 545,393 546,316.2 546,318.4 546,320.7 546,323 546,325.2 546,327.5 546,329.7 546,332 546,334.3 546,336.5 546,338.8 546,341 546,343.3 546,345.6 546,347.8 546,350.1 546,352.3 546,354.6 546,356.9 546,359.1 546,361.4 546,363.6 546,365.9 546,368.2 546,370.4 546,372.7 546,374.9 546,377.2 546,379.5 546,381.7 547,293.6 547,318.4 547,320.7 547,323 547,325.2 547,327.5 547,329.7 547,332 547,334.3 547,336.5 547,338.8 547,341 547,343.3 547,345.6 547,347.8 547,350.1 547,352.3 547,354.6 547,356.9 547,359.1 547,361.4 547,363.6 547,365.9 547,368.2 547,370.4 547,372.7 547,374.9 547,377.2 547,379.5 547,381.7 547,384 547,386.2 547,388.5 547,390.8 548,304.9 548,323 548,327.5 548,329.7 548,332 548,341 548,345.6 548,347.8 548,350.1 548,352.3 548,354.6 548,356.9 548,361.4 548,363.6 548,365.9 548,368.2 548,372.7 548,377.2 548,379.5 548,381.7 548,384 548,386.2 548,390.8 549,316.2 549,318.4 549,323 549,327.5 549,329.7 549,332 549,334.3 549,338.8 549,341 549,343.3 549,345.6 549,347.8 549,352.3 549,354.6 549,356.9 549,363.6 549,365.9 549,368.2 549,372.7 550,309.4 550,316.2 550,318.4 550,323 550,325.2 550,329.7 550,332 550,334.3 550,338.8 550,341 550,343.3 550,345.6 550,347.8 550,350.1 550,352.3 550,356.9 550,359.1 550,361.4 550,363.6 551,307.1 551,318.4 551,320.7 551,323 551,327.5 551,332 551,336.5 551,338.8 551,347.8 551,350.1 551,354.6 551,359.1 551,363.6 551,365.9 551,368.2 551,370.4 552,318.4 552,320.7 552,323 552,325.2 552,327.5 552,329.7 552,332 552,334.3 552,336.5 552,338.8 552,341 552,343.3 552,345.6 552,347.8 552,352.3 552,354.6 552,356.9 552,359.1 552,361.4 552,363.6 552,365.9 552,368.2 552,370.4 552,372.7 552,374.9 552,377.2 552,379.5 552,381.7 552,384 552,386.2 552,388.5 552,390.8 552,393 552,395.3 552,397.5 553,298.1 553,318.4 553,320.7 553,323 553,325.2 553,327.5 553,329.7 553,332 553,334.3 553,336.5 553,338.8 553,341 553,343.3 553,345.6 553,347.8 553,350.1 553,352.3 553,354.6 553,356.9 553,359.1 553,361.4 553,363.6 553,365.9 553,368.2 553,370.4 553,372.7 553,374.9 553,377.2 553,393 554,304.9 554,307.1 554,309.4 554,311.7 554,313.9 554,316.2 554,318.4 554,320.7 554,323 554,325.2 554,327.5 554,329.7 554,332 554,334.3 554,336.5 554,338.8 554,341 554,343.3 554,345.6 554,347.8 554,350.1 554,352.3 554,354.6 554,356.9 554,359.1 554,361.4 554,363.6 554,365.9 554,368.2 554,370.4 554,372.7 554,374.9 554,377.2 554,379.5 554,381.7 554,384 554,386.2 554,388.5 554,390.8 554,393 555,313.9 555,316.2 555,318.4 555,320.7 555,323 555,325.2 555,327.5 555,329.7 555,332 555,334.3 555,336.5 555,338.8 555,341 555,343.3 555,347.8 555,350.1 555,352.3 555,354.6 555,356.9 555,359.1 555,361.4 555,365.9 555,368.2 555,370.4 556,313.9 556,316.2 556,318.4 556,320.7 556,323 556,325.2 556,327.5 556,329.7 556,332 556,334.3 556,336.5 556,338.8 556,341 556,343.3 556,345.6 556,347.8 556,350.1 556,352.3 556,354.6 556,356.9 556,359.1 556,361.4 556,363.6 557,309.4 557,325.2 557,327.5 557,329.7 557,332 557,334.3 557,336.5 557,338.8 557,341 557,343.3 557,345.6 557,347.8 557,350.1 557,352.3 557,354.6 557,356.9 557,359.1 558,318.4 558,320.7 558,323 558,327.5 558,329.7 558,332 558,334.3 558,336.5 558,338.8 558,341 558,345.6 558,354.6 558,356.9 558,363.6 558,365.9 558,368.2 559,309.4 559,313.9 559,316.2 559,318.4 559,323 559,325.2 559,327.5 559,332 559,334.3 559,336.5 559,345.6 559,347.8 559,352.3 559,356.9 559,361.4 559,365.9 559,368.2 559,370.4 559,374.9 559,393 560,309.4 560,313.9 560,320.7 560,332 560,334.3 560,341 560,347.8 560,356.9 560,359.1 560,370.4 560,384 561,307.1 561,309.4 561,311.7 561,313.9 561,316.2 561,318.4 561,320.7 561,323 561,325.2 561,327.5 561,329.7 561,332 561,334.3 561,336.5 561,338.8 561,341 561,343.3 561,345.6 561,347.8 561,350.1 561,352.3 561,354.6 561,356.9 561,359.1 561,361.4 561,363.6 561,365.9 561,368.2 561,370.4 561,372.7 561,374.9 561,377.2 561,379.5 561,388.5 562,329.7 562,336.5 562,338.8 562,341 562,345.6 562,352.3 562,356.9 562,361.4 562,363.6 562,370.4 562,374.9 562,379.5 562,381.7 562,384 562,390.8 563,316.2 563,318.4 563,320.7 563,323 563,325.2 563,327.5 563,329.7 563,332 563,334.3 563,336.5 563,341 563,343.3 563,345.6 563,347.8 563,350.1 563,352.3 563,356.9 563,359.1 563,361.4 563,368.2 563,370.4 563,374.9 563,393 564,313.9 564,316.2 564,318.4 564,320.7 564,323 564,325.2 564,327.5 564,329.7 564,332 564,334.3 564,336.5 564,338.8 564,341 564,343.3 564,345.6 564,347.8 564,350.1 564,352.3 564,354.6 564,356.9 564,359.1 564,361.4 564,363.6 564,365.9 564,368.2 564,370.4 564,372.7 564,377.2 565,309.4 565,318.4 565,323 565,325.2 565,327.5 565,332 565,341 565,343.3 565,345.6 565,352.3 565,354.6 566,311.7 566,313.9 566,316.2 566,318.4 566,320.7 566,323 566,325.2 566,327.5 566,329.7 566,332 566,334.3 566,336.5 566,338.8 566,341 566,343.3 566,345.6 566,347.8 566,350.1 566,352.3 566,354.6 566,356.9 566,359.1 566,361.4 566,363.6 566,365.9 566,368.2 567,313.9 567,318.4 567,320.7 567,323 567,325.2 567,327.5 567,329.7 567,332 567,334.3 567,336.5 567,338.8 567,341 567,343.3 567,345.6 567,347.8 567,350.1 568,304.9 568,307.1 568,309.4 568,311.7 568,313.9 568,316.2 568,318.4 568,320.7 568,323 568,325.2 568,327.5 568,329.7 568,332 568,334.3 568,336.5 568,338.8 568,341 568,343.3 568,345.6 568,347.8 568,350.1 568,352.3 569,304.9 569,313.9 569,316.2 569,318.4 569,320.7 569,325.2 569,327.5 569,332 569,334.3 569,336.5 569,341 569,343.3 569,345.6 569,347.8 569,350.1 570,316.2 570,320.7 570,323 570,327.5 570,329.7 570,334.3 570,336.5 570,338.8 570,341 570,343.3 570,345.6 570,347.8 570,350.1 570,352.3 570,354.6 571,313.9 571,316.2 571,318.4 571,320.7 571,323 571,325.2 571,327.5 571,329.7 571,332 571,334.3 571,336.5 571,338.8 571,341 571,343.3 571,345.6 571,347.8 571,350.1 571,352.3 571,356.9 572,311.7 572,323 572,325.2 572,327.5 572,329.7 572,332 572,334.3 572,336.5 572,338.8 572,341 572,343.3 572,347.8 572,350.1 572,352.3 572,356.9 572,359.1 573,320.7 573,323 573,327.5 573,329.7 573,332 573,334.3 573,336.5 573,338.8 573,341 573,343.3 573,345.6 573,347.8 573,350.1 573,352.3 573,354.6 573,356.9 574,318.4 574,320.7 574,325.2 574,332 574,334.3 574,336.5 574,338.8 574,345.6 574,347.8 574,352.3 574,354.6 574,356.9 574,363.6 574,365.9 574,379.5 575,313.9 575,316.2 575,318.4 575,320.7 575,323 575,325.2 575,327.5 575,332 575,336.5 575,338.8 575,341 575,343.3 575,347.8 575,350.1 575,352.3 575,354.6 575,356.9 575,359.1 575,365.9 575,368.2 575,370.4 575,377.2 575,379.5 575,384 575,388.5 576,327.5 576,329.7 576,334.3 576,336.5 576,338.8 576,341 576,345.6 576,347.8 576,350.1 576,352.3 576,356.9 576,359.1 576,361.4 576,363.6 576,368.2 576,370.4 576,372.7 576,377.2 577,332 577,334.3 577,338.8 577,343.3 577,347.8 577,350.1 577,356.9 577,363.6 577,365.9 577,368.2 577,372.7 577,379.5 577,390.8 577,395.3 577,397.5 578,325.2 578,327.5 578,329.7 578,332 578,336.5 578,338.8 578,341 578,343.3 578,345.6 578,347.8 578,350.1 578,352.3 578,354.6 578,356.9 578,359.1 578,361.4 578,363.6 578,365.9 578,368.2 578,370.4 578,372.7 578,374.9 578,377.2 578,381.7 578,384 578,386.2 578,388.5 578,390.8 578,393 578,395.3 578,397.5 578,402.1 579,327.5 579,332 579,336.5 579,341 579,343.3 579,347.8 579,350.1 579,356.9 579,359.1 579,361.4 579,363.6 579,365.9 579,368.2 579,370.4 579,372.7 579,374.9 579,379.5 579,381.7 579,384 579,386.2 579,388.5 579,390.8 579,395.3 579,397.5 580,313.9 580,323 580,325.2 580,327.5 580,332 580,334.3 580,336.5 580,338.8 580,341 580,343.3 580,345.6 580,350.1 580,352.3 580,354.6 580,356.9 580,359.1 580,361.4 580,363.6 580,365.9 580,368.2 580,370.4 580,372.7 581,327.5 581,332 581,336.5 581,338.8 581,341 581,343.3 581,347.8 581,354.6 581,359.1 581,363.6 581,365.9 581,368.2 581,370.4 581,379.5 582,320.7 582,323 582,325.2 582,327.5 582,329.7 582,332 582,336.5 582,343.3 582,345.6 582,347.8 582,350.1 582,352.3 582,354.6 582,356.9 582,359.1 582,365.9 582,368.2 582,372.7 582,374.9 582,377.2 582,406.6 583,323 583,325.2 583,327.5 583,329.7 583,332 583,334.3 583,336.5 583,338.8 583,341 583,343.3 583,345.6 583,347.8 583,350.1 583,352.3 583,354.6 583,356.9 583,359.1 583,361.4 583,363.6 583,365.9 583,368.2 583,370.4 583,372.7 583,374.9 583,377.2 583,379.5 583,381.7 584,327.5 584,332 584,334.3 584,336.5 584,338.8 584,341 584,345.6 584,347.8 584,350.1 584,352.3 584,354.6 584,356.9 584,359.1 584,368.2 584,370.4 584,372.7 584,374.9 584,377.2 584,379.5 584,397.5 585,325.2 585,336.5 585,338.8 585,341 585,345.6 585,347.8 585,352.3 585,356.9 585,359.1 585,361.4 585,365.9 585,374.9 585,377.2 585,379.5 585,381.7 585,384 585,388.5 585,397.5 586,323 586,325.2 586,327.5 586,329.7 586,332 586,334.3 586,336.5 586,338.8 586,341 586,343.3 586,345.6 586,347.8 586,350.1 586,352.3 586,354.6 586,356.9 586,359.1 586,361.4 586,363.6 586,365.9 586,368.2 586,370.4 586,372.7 586,374.9 586,377.2 586,379.5 586,381.7 586,384 586,386.2 586,388.5 586,390.8 586,393 586,395.3 587,338.8 587,341 587,343.3 587,345.6 587,347.8 587,352.3 587,354.6 587,356.9 587,359.1 587,361.4 587,363.6 587,365.9 587,368.2 587,370.4 587,372.7 587,374.9 587,377.2 587,379.5 587,381.7 587,384 587,386.2 587,388.5 587,390.8 587,393 587,395.3 588,329.7 588,336.5 588,338.8 588,341 588,343.3 588,347.8 588,350.1 588,352.3 588,354.6 588,356.9 588,359.1 588,361.4 588,363.6 588,365.9 588,368.2 588,370.4 588,372.7 588,374.9 588,377.2 588,379.5 588,381.7 588,384 588,386.2 588,388.5 588,390.8 588,393 588,395.3 588,397.5 588,399.8 589,343.3 589,347.8 589,350.1 589,352.3 589,356.9 589,359.1 589,361.4 589,363.6 589,365.9 589,368.2 589,370.4 589,372.7 589,374.9 589,377.2 589,379.5 589,381.7 589,384 589,386.2 589,388.5 589,390.8 589,393 589,395.3 589,397.5 589,399.8 590,343.3 590,347.8 590,350.1 590,352.3 590,354.6 590,356.9 590,359.1 590,361.4 590,363.6 590,365.9 590,368.2 590,370.4 590,372.7 590,374.9 590,377.2 590,379.5 590,381.7 590,384 590,386.2 590,388.5 590,390.8 590,393 590,395.3 590,397.5 590,399.8 590,402.1 590,404.3 590,406.6 590,408.8 590,411.1 591,338.8 591,341 591,343.3 591,345.6 591,347.8 591,350.1 591,354.6 591,356.9 591,359.1 591,361.4 591,363.6 591,365.9 591,368.2 591,370.4 591,372.7 591,374.9 591,377.2 591,379.5 591,381.7 591,384 591,386.2 591,388.5 591,390.8 591,393 591,395.3 591,397.5 592,336.5 592,338.8 592,341 592,345.6 592,347.8 592,350.1 592,352.3 592,354.6 592,356.9 592,359.1 592,361.4 592,363.6 592,365.9 592,368.2 592,370.4 592,372.7 592,374.9 592,377.2 592,379.5 592,381.7 592,384 592,386.2 592,388.5 592,390.8 592,393 592,397.5 593,338.8 593,341 593,343.3 593,345.6 593,347.8 593,350.1 593,352.3 593,354.6 593,356.9 593,359.1 593,361.4 593,363.6 593,365.9 593,368.2 593,370.4 593,372.7 593,374.9 593,377.2 593,379.5 593,381.7 593,384 593,386.2 593,388.5 593,390.8 593,393 593,395.3 593,397.5 593,399.8 593,402.1 594,336.5 594,338.8 594,341 594,343.3 594,345.6 594,347.8 594,350.1 594,352.3 594,354.6 594,356.9 594,359.1 594,361.4 594,363.6 594,365.9 594,368.2 594,370.4 594,372.7 594,374.9 594,377.2 594,379.5 594,381.7 594,384 594,386.2 594,388.5 594,390.8 594,393 595,343.3 595,345.6 595,350.1 595,352.3 595,356.9 595,359.1 595,361.4 595,363.6 595,365.9 595,368.2 595,370.4 595,372.7 595,374.9 595,377.2 595,379.5 595,381.7 595,384 595,386.2 595,399.8 596,338.8 596,343.3 596,345.6 596,347.8 596,350.1 596,352.3 596,356.9 596,361.4 596,363.6 596,365.9 596,370.4 596,374.9 596,377.2 596,379.5 596,381.7 596,384 596,386.2 596,388.5 596,393 596,413.4 597,338.8 597,347.8 597,350.1 597,354.6 597,359.1 597,361.4 597,365.9 597,368.2 597,372.7 597,374.9 597,379.5 597,381.7 597,384 597,388.5 597,390.8 597,393 597,395.3 597,397.5 597,399.8 597,406.6 598,343.3 598,347.8 598,350.1 598,352.3 598,354.6 598,356.9 598,359.1 598,361.4 598,363.6 598,368.2 598,370.4 598,372.7 598,374.9 598,377.2 598,379.5 598,381.7 598,386.2 598,388.5 598,390.8 599,325.2 599,343.3 599,345.6 599,347.8 599,350.1 599,354.6 599,356.9 599,359.1 599,361.4 599,363.6 599,365.9 599,368.2 599,370.4 599,374.9 599,377.2 599,381.7 599,384 599,386.2 599,390.8 599,393 599,402.1 600,341 600,343.3 600,345.6 600,347.8 600,352.3 600,354.6 600,363.6 600,365.9 600,368.2 600,370.4 600,372.7 600,374.9 600,377.2 600,379.5 600,384 600,388.5 601,325.2 601,334.3 601,336.5 601,338.8 601,347.8 601,350.1 601,352.3 601,354.6 601,359.1 601,363.6 601,365.9 601,368.2 601,372.7 601,374.9 601,379.5 601,381.7 602,327.5 602,329.7 602,332 602,334.3 602,336.5 602,338.8 602,341 602,343.3 602,345.6 602,347.8 602,354.6 602,356.9 602,359.1 602,361.4 602,365.9 602,368.2 602,372.7 602,374.9 602,377.2 602,384 603,334.3 603,341 603,343.3 603,359.1 603,361.4 603,372.7 603,377.2 603,379.5 603,381.7 603,384 603,397.5 604,318.4 604,320.7 604,323 604,325.2 604,327.5 604,329.7 604,332 604,334.3 604,336.5 604,338.8 604,341 604,343.3 604,345.6 604,347.8 604,350.1 604,352.3 604,354.6 604,356.9 604,359.1 604,361.4 604,363.6 604,365.9 604,368.2 604,370.4 604,372.7 604,374.9 604,377.2 604,379.5 605,334.3 605,336.5 605,338.8 605,341 605,343.3 605,345.6 605,347.8 605,350.1 605,352.3 605,354.6 605,356.9 605,359.1 605,361.4 605,363.6 605,365.9 605,368.2 605,370.4 605,372.7 605,374.9 605,377.2 606,327.5 606,336.5 606,338.8 606,341 606,343.3 606,347.8 606,350.1 606,352.3 606,354.6 606,356.9 606,359.1 606,361.4 606,363.6 606,365.9 606,368.2 606,370.4 606,372.7 606,374.9 606,377.2 606,379.5 606,381.7 606,384 607,327.5 607,329.7 607,332 607,334.3 607,336.5 607,338.8 607,341 607,345.6 607,347.8 607,350.1 607,352.3 607,354.6 607,356.9 607,359.1 607,361.4 607,363.6 607,365.9 607,368.2 607,370.4 607,372.7 607,374.9 607,377.2 607,379.5 607,381.7 607,384 607,386.2 607,388.5 608,338.8 608,341 608,343.3 608,345.6 608,347.8 608,350.1 608,352.3 608,354.6 608,356.9 608,359.1 608,361.4 608,363.6 608,365.9 608,368.2 608,370.4 608,372.7 608,374.9 609,316.2 609,334.3 609,336.5 609,338.8 609,341 609,343.3 609,345.6 609,347.8 609,350.1 609,352.3 609,356.9 609,359.1 609,361.4 609,363.6 609,365.9 609,370.4 609,372.7 609,377.2 609,379.5 609,381.7 609,384 609,386.2 609,388.5 609,393 610,323 610,327.5 610,329.7 610,334.3 610,336.5 610,338.8 610,343.3 610,347.8 610,350.1 610,352.3 610,354.6 610,356.9 610,359.1 610,361.4 610,363.6 610,365.9 610,368.2 610,374.9 611,332 611,334.3 611,336.5 611,338.8 611,341 611,343.3 611,347.8 611,350.1 611,352.3 611,354.6 611,356.9 611,361.4 611,365.9 611,370.4 611,374.9 611,377.2 611,379.5 611,386.2 612,325.2 612,327.5 612,329.7 612,332 612,334.3 612,336.5 612,338.8 612,341 612,345.6 612,347.8 612,350.1 612,352.3 612,354.6 612,356.9 612,361.4 612,365.9 612,368.2 612,372.7 612,374.9 612,377.2 612,379.5 612,381.7 612,384 612,388.5 613,329.7 613,336.5 613,338.8 613,341 613,343.3 613,352.3 613,356.9 613,359.1 613,361.4 613,363.6 613,365.9 613,368.2 613,370.4 613,372.7 613,374.9 613,379.5 613,381.7 613,386.2 614,329.7 614,332 614,334.3 614,336.5 614,338.8 614,341 614,343.3 614,345.6 614,347.8 614,350.1 614,352.3 614,354.6 614,356.9 614,359.1 614,361.4 614,363.6 614,365.9 614,368.2 614,370.4 614,372.7 614,374.9 614,377.2 614,381.7 615,323 615,325.2 615,327.5 615,332 615,334.3 615,336.5 615,338.8 615,341 615,345.6 615,347.8 615,350.1 615,352.3 615,354.6 615,356.9 615,359.1 615,361.4 615,363.6 615,370.4 615,372.7 615,374.9 615,379.5 615,384 616,318.4 616,325.2 616,327.5 616,329.7 616,332 616,334.3 616,338.8 616,341 616,343.3 616,345.6 616,347.8 616,350.1 616,352.3 616,354.6 616,356.9 616,359.1 616,361.4 616,363.6 616,365.9 616,368.2 616,370.4 616,372.7 616,374.9 616,377.2 616,379.5 616,381.7 616,384 616,386.2 616,388.5 617,325.2 617,327.5 617,329.7 617,332 617,334.3 617,336.5 617,338.8 617,341 617,343.3 617,347.8 617,350.1 617,352.3 617,354.6 617,356.9 617,359.1 617,361.4 617,363.6 617,365.9 617,368.2 617,370.4 617,372.7 617,374.9 617,377.2 617,379.5 617,381.7 617,384 617,386.2 617,390.8 618,316.2 618,327.5 618,329.7 618,332 618,334.3 618,336.5 618,338.8 618,341 618,343.3 618,345.6 618,350.1 618,352.3 618,354.6 618,356.9 618,359.1 618,361.4 618,363.6 618,365.9 618,368.2 618,370.4 618,372.7 618,374.9 618,377.2 618,379.5 618,381.7 618,384 619,334.3 619,336.5 619,338.8 619,341 619,343.3 619,345.6 619,347.8 619,350.1 619,352.3 619,354.6 619,359.1 619,361.4 619,363.6 619,365.9 619,368.2 619,370.4 619,372.7 619,374.9 619,377.2 619,379.5 619,384 619,388.5 619,390.8 619,395.3 619,397.5 620,329.7 620,332 620,334.3 620,336.5 620,338.8 620,341 620,343.3 620,345.6 620,347.8 620,350.1 620,352.3 620,354.6 620,356.9 620,359.1 620,361.4 620,363.6 620,365.9 620,368.2 620,370.4 620,372.7 620,374.9 620,377.2 620,379.5 620,381.7 620,384 620,386.2 620,388.5 620,390.8 620,393 621,336.5 621,341 621,343.3 621,345.6 621,347.8 621,350.1 621,352.3 621,354.6 621,356.9 621,359.1 621,361.4 621,363.6 621,365.9 621,368.2 621,370.4 621,372.7 621,374.9 621,377.2 621,379.5 621,381.7 621,384 621,386.2 621,388.5 621,390.8 621,393 621,395.3 621,415.6 622,334.3 622,341 622,343.3 622,345.6 622,347.8 622,350.1 622,352.3 622,354.6 622,356.9 622,359.1 622,361.4 622,363.6 622,365.9 622,368.2 622,370.4 622,372.7 622,374.9 622,377.2 622,379.5 622,381.7 622,384 622,386.2 622,388.5 623,345.6 623,350.1 623,354.6 623,365.9 623,372.7 623,379.5 623,388.5 624,359.1 624,361.4 624,365.9 624,368.2 624,372.7 624,386.2 624,388.5 625,354.6 625,356.9 625,359.1 625,363.6 625,365.9 625,368.2 625,370.4 625,372.7 625,374.9 625,377.2 625,379.5 625,381.7 625,384 625,386.2 625,388.5 625,390.8 625,393 625,395.3 625,399.8 626,352.3 626,365.9 626,370.4 626,372.7 626,377.2 626,386.2 626,388.5 626,390.8 626,395.3 626,397.5 626,402.1 626,404.3 626,406.6 626,408.8 626,411.1 626,417.9 627,368.2 627,372.7 627,374.9 627,379.5 627,384 627,386.2 627,390.8 627,393 627,395.3 627,399.8 627,406.6 627,408.8 627,413.4 627,415.6 628,374.9 628,377.2 628,379.5 628,381.7 628,386.2 628,390.8 628,393 628,395.3 628,397.5 628,399.8 628,402.1 628,404.3 628,406.6 628,408.8 628,438.2 629,370.4 629,372.7 629,374.9 629,377.2 629,379.5 629,381.7 629,384 629,386.2 629,390.8 629,393 629,395.3 629,397.5 629,399.8 629,402.1 629,404.3 629,406.6 629,408.8 629,411.1 629,413.4 630,379.5 630,381.7 630,384 630,386.2 630,388.5 630,395.3 630,397.5 630,399.8 630,404.3 630,406.6 630,408.8 630,411.1 630,413.4 630,415.6 630,417.9 631,384 631,386.2 631,388.5 631,390.8 631,393 631,395.3 631,404.3 631,406.6 631,411.1 631,413.4 631,415.6 631,417.9 631,420.1 631,422.4 631,424.7 631,426.9 632,388.5 632,390.8 632,393 632,395.3 632,397.5 632,399.8 632,402.1 632,404.3 632,411.1 632,415.6 632,417.9 632,420.1 632,422.4 632,424.7 632,426.9 632,429.2 633,399.8 633,402.1 633,406.6 633,413.4 633,424.7 633,431.4 634,399.8 634,402.1 634,413.4 634,417.9 634,420.1 634,447.3 635,406.6 635,408.8 635,411.1 635,413.4 635,420.1 635,422.4 635,424.7 635,426.9 635,429.2 635,431.4 635,433.7 635,436 635,438.2 635,440.5 635,442.7 635,445 635,447.3 635,449.5 635,451.8 635,454 636,411.1 636,420.1 636,424.7 636,429.2 636,442.7 636,445 636,447.3 637,404.3 637,411.1 637,413.4 637,415.6 637,417.9 637,420.1 637,422.4 637,424.7 637,426.9 637,429.2 637,431.4 637,433.7 637,436 637,438.2 637,442.7 637,445 637,447.3 638,424.7 638,429.2 638,431.4 638,433.7 638,436 638,438.2 638,442.7 638,447.3 638,458.6 639,415.6 639,420.1 639,422.4 639,426.9 639,431.4 639,433.7 639,436 639,438.2 639,440.5 639,442.7 639,445 639,447.3 640,417.9 640,420.1 640,422.4 640,424.7 640,426.9 640,429.2 640,431.4 640,433.7 640,436 640,438.2 640,440.5 640,442.7 641,417.9 641,422.4 641,433.7 641,436 641,440.5 641,442.7 642,426.9 642,436 643,422.4 643,424.7 643,426.9 643,429.2 643,431.4 643,433.7 643,436 643,438.2 643,440.5 644,429.2 644,431.4 644,433.7 644,438.2 644,440.5 645,426.9 645,429.2 645,431.4 645,433.7 645,436 645,438.2 645,440.5 645,442.7 645,445 645,447.3 645,449.5 646,431.4 646,433.7 646,436 646,438.2 646,440.5 646,442.7 646,445 647,431.4 647,436 647,438.2 647,440.5 647,442.7 647,445 648,429.2 648,433.7 648,436 648,438.2 648,440.5 648,445 649,426.9 649,429.2 649,431.4 649,433.7 649,438.2 649,440.5 649,442.7 649,445 650,420.1 650,422.4 650,424.7 650,426.9 650,429.2 650,431.4 650,433.7 650,436 650,438.2 650,440.5 651,397.5 651,399.8 651,402.1 651,404.3 651,406.6 651,408.8 651,411.1 651,413.4 651,415.6 651,417.9 651,420.1 651,422.4 651,424.7 651,426.9 651,429.2 651,431.4 651,433.7 651,442.7 652,397.5 652,399.8 652,402.1 652,404.3 652,406.6 652,408.8 652,413.4 652,415.6 652,417.9 652,420.1 652,422.4 652,424.7 652,426.9 652,431.4 652,433.7 652,438.2 653,374.9 653,393 653,395.3 653,397.5 653,399.8 653,402.1 653,404.3 653,406.6 653,408.8 653,411.1 653,413.4 653,415.6 653,420.1 654,384 654,390.8 654,393 654,395.3 654,397.5 654,399.8 654,402.1 654,404.3 654,406.6 654,408.8 654,411.1 654,413.4 654,415.6 654,417.9 655,388.5 655,390.8 655,393 655,395.3 655,397.5 655,399.8 655,404.3 655,408.8 655,411.1 655,413.4 655,422.4 656,388.5 656,390.8 656,393 656,395.3 656,397.5 656,399.8 656,402.1 656,404.3 656,408.8 656,411.1 657,386.2 657,388.5 657,390.8 657,393 657,395.3 657,397.5 657,399.8 657,402.1 657,404.3 657,406.6 658,386.2 658,388.5 658,393 658,395.3 658,397.5 658,399.8 658,402.1 658,404.3 658,406.6 658,408.8 659,399.8 660,386.2 660,390.8 660,402.1 660,404.3 660,406.6 660,408.8 660,411.1 660,413.4 660,415.6 660,417.9 661,381.7 661,384 661,388.5 661,390.8 661,395.3 661,397.5 661,402.1 661,404.3 661,406.6 661,408.8 661,413.4 661,415.6 662,384 662,388.5 662,393 662,395.3 662,397.5 662,399.8 662,402.1 662,404.3 662,406.6 662,411.1 663,384 663,386.2 663,388.5 663,390.8 663,393 663,395.3 663,397.5 663,399.8 663,402.1 663,404.3 663,406.6 663,408.8 664,381.7 664,384 664,386.2 664,388.5 664,390.8 664,393 664,395.3 664,397.5 664,399.8 664,402.1 664,404.3 664,406.6 664,408.8 664,411.1 665,379.5 665,381.7 665,384 665,388.5 665,390.8 665,395.3 665,399.8 665,402.1 665,404.3 665,411.1 666,379.5 666,381.7 666,384 666,386.2 666,388.5 666,390.8 666,393 666,395.3 666,397.5 666,399.8 666,402.1 666,404.3 666,415.6 667,381.7 667,384 667,386.2 667,388.5 667,390.8 667,393 667,395.3 667,397.5 667,399.8 667,402.1 667,404.3 667,406.6 668,381.7 668,384 668,386.2 668,388.5 668,390.8 668,393 668,399.8 668,402.1 668,404.3 668,406.6 668,411.1 668,415.6 669,381.7 669,384 669,386.2 669,388.5 669,390.8 669,393 669,395.3 669,397.5 669,399.8 669,402.1 669,404.3 669,406.6 669,408.8 669,411.1 670,386.2 670,393 670,395.3 670,397.5 670,399.8 670,402.1 670,404.3 670,406.6 671,386.2 671,388.5 671,390.8 671,393 671,395.3 671,397.5 671,399.8 671,402.1 671,404.3 671,406.6 671,413.4 672,388.5 672,390.8 672,393 672,395.3 672,397.5 672,399.8 672,402.1 672,404.3 672,408.8 672,413.4 672,415.6 672,417.9 672,420.1 673,388.5 673,390.8 673,393 673,395.3 673,397.5 673,399.8 673,402.1 673,404.3 673,406.6 673,408.8 673,411.1 673,413.4 673,415.6 673,417.9 674,395.3 674,397.5 674,399.8 674,402.1 674,404.3 674,406.6 674,408.8 674,411.1 674,413.4 674,415.6 674,417.9 674,420.1 674,422.4 675,402.1 675,404.3 675,406.6 675,408.8 675,411.1 675,413.4 675,415.6 675,417.9 675,420.1 675,422.4 675,424.7 675,426.9 675,436 676,406.6 676,408.8 676,413.4 676,415.6 676,417.9 676,420.1 676,422.4 676,424.7 676,426.9 676,429.2 676,431.4 676,445 677,411.1 677,413.4 677,415.6 677,417.9 677,420.1 677,422.4 677,424.7 677,426.9 677,429.2 677,431.4 677,433.7 677,436 677,438.2 677,440.5 677,442.7 678,411.1 678,426.9 678,431.4 678,433.7 678,436 678,442.7 678,445 678,449.5 678,454 679,408.8 679,424.7 679,429.2 679,431.4 679,433.7 679,436 679,440.5 679,442.7 679,447.3 679,451.8 680,415.6 680,417.9 680,420.1 680,422.4 680,424.7 680,426.9 680,429.2 680,431.4 680,433.7 680,436 680,438.2 680,442.7 680,445 680,447.3 680,449.5 680,451.8 680,454 681,417.9 681,420.1 681,422.4 681,424.7 681,426.9 681,429.2 681,431.4 681,433.7 681,436 681,438.2 681,440.5 681,442.7 681,445 681,447.3 681,449.5 681,451.8 681,454 681,456.3 681,458.6 681,460.8 681,463.1 681,465.3 681,467.6 682,413.4 682,415.6 682,417.9 682,420.1 682,422.4 682,424.7 682,426.9 682,429.2 682,431.4 682,433.7 682,436 682,438.2 682,440.5 682,442.7 682,445 682,447.3 682,449.5 682,451.8 682,454 683,406.6 683,408.8 683,411.1 683,413.4 683,415.6 683,417.9 683,420.1 683,422.4 683,424.7 683,426.9 683,429.2 683,431.4 683,433.7 683,436 683,438.2 684,397.5 684,399.8 684,402.1 684,404.3 684,406.6 684,408.8 684,411.1 684,413.4 684,415.6 684,417.9 684,420.1 684,422.4 684,424.7 684,426.9 684,429.2 684,431.4 684,433.7 684,436 684,438.2 685,390.8 685,393 685,395.3 685,397.5 685,399.8 685,402.1 685,404.3 685,406.6 685,408.8 685,411.1 685,413.4 685,415.6 686,372.7 686,386.2 686,388.5 686,390.8 686,393 686,395.3 686,397.5 686,402.1 686,404.3 686,406.6 687,368.2 687,381.7 687,384 687,386.2 687,388.5 687,390.8 687,393 687,399.8 687,404.3 688,374.9 688,377.2 688,379.5 688,384 688,388.5 688,390.8 688,395.3 689,372.7 689,374.9 689,377.2 689,379.5 689,381.7 689,384 689,386.2 689,388.5 689,393 689,397.5 689,402.1 690,368.2 690,370.4 690,379.5 690,386.2 690,388.5 690,404.3 691,372.7 691,374.9 691,377.2 691,379.5 691,381.7 691,384 691,386.2 691,388.5 691,390.8 692,368.2 692,372.7 692,377.2 692,379.5 692,381.7 692,384 692,386.2 692,390.8 692,395.3 692,397.5 692,399.8 692,402.1 693,368.2 693,372.7 693,377.2 693,381.7 693,384 693,388.5 693,395.3 694,370.4 694,372.7 694,374.9 694,377.2 694,381.7 694,386.2 694,388.5 694,390.8 694,393 694,397.5 694,402.1 695,368.2 695,370.4 695,372.7 695,374.9 695,377.2 695,379.5 695,381.7 695,386.2 695,388.5 695,393 696,365.9 696,368.2 696,370.4 696,374.9 696,377.2 696,379.5 696,381.7 696,384 696,386.2 696,388.5 696,390.8 696,404.3 697,361.4 697,363.6 697,365.9 697,368.2 697,370.4 697,372.7 697,374.9 697,377.2 697,379.5 697,381.7 697,384 697,386.2 697,388.5 697,390.8 697,393 698,363.6 698,365.9 698,368.2 698,370.4 698,372.7 698,374.9 698,377.2 698,379.5 698,381.7 698,384 698,386.2 698,388.5 698,390.8 699,350.1 699,363.6 699,365.9 699,368.2 699,370.4 699,372.7 699,374.9 699,377.2 699,379.5 699,381.7 699,384 699,386.2 699,388.5 700,356.9 700,363.6 700,365.9 700,368.2 700,370.4 700,372.7 700,374.9 700,377.2 700,379.5 700,381.7 700,384 700,386.2 700,388.5 700,390.8 700,393 700,402.1 701,350.1 701,361.4 701,363.6 701,365.9 701,368.2 701,370.4 701,372.7 701,374.9 701,377.2 701,379.5 701,381.7 701,384 701,386.2 701,388.5 701,390.8 701,393 702,354.6 702,363.6 702,365.9 702,368.2 702,370.4 702,372.7 702,374.9 702,377.2 702,379.5 702,381.7 702,386.2 702,388.5 702,390.8 702,393 702,406.6 703,361.4 703,363.6 703,365.9 703,368.2 703,370.4 703,372.7 703,374.9 703,377.2 703,379.5 703,381.7 703,384 703,388.5 703,390.8 703,393 703,397.5 703,399.8 704,350.1 704,359.1 704,361.4 704,363.6 704,365.9 704,370.4 704,372.7 704,374.9 704,377.2 704,384 704,386.2 704,388.5 705,347.8 705,356.9 705,359.1 705,361.4 705,363.6 705,365.9 705,368.2 705,370.4 705,372.7 705,374.9 705,377.2 705,379.5 705,381.7 705,384 705,386.2 705,388.5 705,390.8 705,393 706,359.1 706,361.4 706,363.6 706,365.9 706,368.2 706,370.4 706,372.7 706,377.2 706,379.5 706,381.7 706,384 706,386.2 706,388.5 706,390.8 707,365.9 707,368.2 707,372.7 707,377.2 707,381.7 707,384 708,363.6 708,365.9 708,372.7 708,377.2 708,381.7 708,384 708,386.2 708,390.8 708,395.3 708,397.5 708,399.8 709,352.3 709,354.6 709,356.9 709,359.1 709,361.4 709,365.9 709,370.4 709,374.9 709,377.2 709,381.7 709,384 710,352.3 710,354.6 710,356.9 710,359.1 710,361.4 710,363.6 710,368.2 710,370.4 710,372.7 710,374.9 710,377.2 710,381.7 710,384 710,386.2 711,341 711,354.6 711,356.9 711,359.1 711,361.4 711,363.6 711,365.9 711,368.2 711,370.4 711,372.7 711,374.9 711,377.2 711,379.5 711,381.7 711,384 711,386.2 711,390.8 711,393 712,345.6 712,352.3 712,354.6 712,356.9 712,359.1 712,361.4 712,363.6 712,365.9 712,368.2 712,372.7 712,374.9 712,377.2 712,379.5 712,381.7 712,384 712,386.2 712,388.5 712,390.8 712,393 712,395.3 712,399.8 713,352.3 713,359.1 713,365.9 713,370.4 713,372.7 713,374.9 713,377.2 713,381.7 713,384 713,386.2 713,388.5 713,390.8 713,393 713,395.3 713,397.5 713,399.8 713,402.1 713,404.3 713,406.6 713,408.8 713,415.6 714,347.8 714,352.3 714,354.6 714,356.9 714,361.4 714,363.6 714,365.9 714,368.2 714,370.4 714,372.7 714,374.9 714,379.5 714,381.7 714,384 714,386.2 714,388.5 714,390.8 714,393 714,395.3 714,399.8 714,402.1 714,404.3 714,406.6 714,408.8 714,411.1 714,413.4 714,415.6 714,417.9 714,420.1 714,436 715,352.3 715,354.6 715,356.9 715,359.1 715,361.4 715,363.6 715,365.9 715,368.2 715,370.4 715,372.7 715,374.9 715,377.2 715,384 715,386.2 715,388.5 715,390.8 715,393 715,395.3 715,397.5 715,399.8 715,402.1 715,404.3 715,408.8 715,411.1 715,413.4 715,415.6 715,417.9 715,420.1 715,422.4 715,424.7 715,426.9 715,429.2 715,431.4 715,433.7 715,436 715,438.2 715,440.5 715,442.7 715,445 715,447.3 715,449.5 716,356.9 716,359.1 716,361.4 716,365.9 716,368.2 716,370.4 716,372.7 716,374.9 716,377.2 716,379.5 716,381.7 716,384 716,388.5 716,390.8 716,393 716,395.3 716,397.5 716,399.8 716,402.1 716,404.3 716,406.6 716,408.8 716,411.1 716,413.4 716,415.6 716,417.9 716,420.1 716,422.4 716,424.7 716,426.9 716,429.2 716,431.4 717,359.1 717,361.4 717,363.6 717,365.9 717,368.2 717,370.4 717,372.7 717,374.9 717,377.2 717,379.5 717,381.7 717,384 717,386.2 717,388.5 717,390.8 717,393 717,397.5 717,399.8 717,402.1 717,404.3 717,406.6 717,408.8 717,411.1 717,413.4 717,415.6 717,417.9 717,420.1 717,422.4 717,424.7 717,426.9 717,445 718,363.6 718,365.9 718,368.2 718,370.4 718,372.7 718,374.9 718,377.2 718,379.5 718,381.7 718,384 718,386.2 718,388.5 718,390.8 718,393 718,395.3 718,397.5 718,399.8 718,402.1 718,404.3 718,406.6 718,408.8 718,411.1 718,413.4 718,415.6 718,429.2 719,368.2 719,370.4 719,377.2 719,379.5 719,381.7 719,390.8 719,395.3 719,397.5 719,402.1 719,404.3 719,406.6 719,417.9 719,420.1 719,424.7 720,363.6 720,365.9 720,368.2 720,370.4 720,372.7 720,374.9 720,377.2 720,379.5 720,381.7 720,384 720,386.2 720,388.5 720,390.8 720,393 720,395.3 720,397.5 720,399.8 720,402.1 721,356.9 721,359.1 721,361.4 721,363.6 721,365.9 721,368.2 721,370.4 721,372.7 721,374.9 721,377.2 721,379.5 721,381.7 721,384 721,386.2 721,388.5 721,390.8 721,393 721,395.3 721,397.5 721,399.8 721,406.6 722,356.9 722,359.1 722,361.4 722,363.6 722,365.9 722,368.2 722,370.4 722,372.7 722,374.9 722,377.2 722,379.5 722,381.7 722,384 722,386.2 722,388.5 722,390.8 723,359.1 723,361.4 723,363.6 723,365.9 723,368.2 723,370.4 723,372.7 723,374.9 723,377.2 723,379.5 723,381.7 723,384 723,386.2 723,388.5 723,390.8 723,393 724,365.9 724,368.2 724,370.4 724,372.7 724,374.9 724,377.2 724,381.7 724,384 724,386.2 724,388.5 724,390.8 725,347.8 725,359.1 725,361.4 725,368.2 725,370.4 725,374.9 725,379.5 725,381.7 725,386.2 725,388.5 725,390.8 725,393 726,359.1 726,361.4 726,363.6 726,365.9 726,368.2 726,370.4 726,372.7 726,374.9 726,377.2 726,379.5 726,381.7 726,386.2 726,388.5 726,390.8 726,393 726,395.3 726,397.5 726,399.8 727,365.9 727,368.2 727,372.7 727,381.7 727,384 727,388.5 727,390.8 727,399.8 727,406.6 728,363.6 728,374.9 728,381.7 728,384 728,393 728,397.5 728,402.1 728,406.6 728,411.1 729,368.2 729,370.4 729,372.7 729,374.9 729,377.2 729,379.5 729,381.7 729,384 729,386.2 729,388.5 729,390.8 729,393 729,397.5 729,399.8 729,402.1 729,406.6 729,408.8 729,411.1 729,417.9 729,422.4 729,424.7 730,365.9 730,370.4 730,372.7 730,374.9 730,377.2 730,379.5 730,381.7 730,386.2 730,388.5 730,390.8 730,393 730,395.3 730,402.1 730,404.3 730,406.6 731,374.9 731,377.2 731,381.7 731,384 731,386.2 731,388.5 731,393 731,395.3 731,397.5 731,402.1 731,411.1 731,413.4 731,415.6 731,417.9 731,426.9 732,350.1 732,379.5 732,381.7 732,384 732,386.2 732,388.5 732,390.8 732,393 732,395.3 732,397.5 732,399.8 732,402.1 732,404.3 732,406.6 732,408.8 732,411.1 732,413.4 732,415.6 732,417.9 733,381.7 733,384 733,386.2 733,388.5 733,390.8 733,393 733,395.3 733,397.5 733,399.8 733,402.1 733,404.3 733,406.6 733,408.8 733,411.1 733,413.4 733,415.6 733,420.1 734,384 734,386.2 734,388.5 734,390.8 734,393 734,395.3 734,397.5 734,399.8 734,402.1 734,404.3 734,408.8 734,411.1 734,413.4 734,415.6 734,417.9 734,426.9 735,386.2 735,388.5 735,390.8 735,393 735,395.3 735,397.5 735,399.8 735,402.1 735,404.3 735,406.6 735,408.8 735,411.1 735,413.4 735,415.6 736,379.5 736,386.2 736,388.5 736,390.8 736,393 736,395.3 736,397.5 736,399.8 736,402.1 736,404.3 736,406.6 736,408.8 736,411.1 736,413.4 736,415.6 736,417.9 736,420.1 736,422.4 736,424.7 737,377.2 737,379.5 737,381.7 737,384 737,386.2 737,388.5 737,390.8 737,393 737,395.3 737,397.5 737,399.8 737,402.1 737,404.3 737,406.6 737,408.8 737,411.1 737,413.4 737,417.9 737,420.1 737,424.7 738,388.5 738,390.8 738,393 738,395.3 738,397.5 738,399.8 738,402.1 738,404.3 738,406.6 738,408.8 738,411.1 738,413.4 738,417.9 738,420.1 738,422.4 738,424.7 739,390.8 739,393 739,395.3 739,397.5 739,399.8 739,402.1 739,404.3 739,406.6 739,408.8 739,411.1 739,413.4 739,415.6 739,417.9 739,420.1 739,424.7 740,399.8 740,406.6 740,408.8 740,413.4 740,415.6 740,422.4 740,429.2 740,431.4 740,433.7 740,438.2 740,442.7 741,399.8 741,402.1 741,404.3 741,406.6 741,408.8 741,411.1 741,413.4 741,415.6 741,417.9 741,420.1 741,422.4 741,424.7 741,426.9 741,429.2 741,431.4 741,433.7 741,436 741,438.2 741,440.5 741,442.7 741,445 741,447.3 742,399.8 742,402.1 742,404.3 742,406.6 742,408.8 742,411.1 742,413.4 742,415.6 742,417.9 742,420.1 742,422.4 742,424.7 742,426.9 742,429.2 742,431.4 742,451.8 743,406.6 743,408.8 743,413.4 743,415.6 743,420.1 743,422.4 743,424.7 743,426.9 743,429.2 744,402.1 744,415.6 744,417.9 744,420.1 744,422.4 744,424.7 744,426.9 744,429.2 744,431.4 744,436 744,438.2 744,440.5 744,442.7 744,447.3 744,449.5 745,424.7 745,429.2 745,431.4 745,433.7 745,440.5 745,442.7 746,415.6 746,426.9 746,431.4 746,433.7 746,436 746,442.7 746,454 746,469.9 747,417.9 747,420.1 747,422.4 747,424.7 747,426.9 747,429.2 747,431.4 747,433.7 747,436 747,438.2 747,440.5 747,442.7 747,445 747,447.3 747,449.5 747,451.8 747,454 748,429.2 748,431.4 748,433.7 748,436 748,438.2 748,440.5 748,442.7 748,447.3 748,449.5 748,451.8 748,456.3 749,433.7 749,436 749,438.2 749,442.7 749,445 749,447.3 749,449.5 749,451.8 749,454 749,456.3 749,458.6 749,465.3 750,429.2 750,438.2 750,447.3 750,449.5 750,451.8 750,454 750,456.3 750,458.6 750,460.8 750,463.1 750,465.3 750,467.6 750,469.9 750,474.4 751,429.2 751,433.7 751,436 751,438.2 751,440.5 751,442.7 751,445 751,447.3 751,449.5 751,451.8 751,454 751,458.6 751,474.4 752,433.7 752,436 752,438.2 752,440.5 752,442.7 752,445 752,447.3 752,449.5 752,451.8 752,454 752,456.3 752,458.6 752,460.8 752,463.1 752,465.3 753,422.4 753,424.7 753,426.9 753,429.2 753,431.4 753,433.7 753,436 753,438.2 753,440.5 753,442.7 753,445 753,447.3 753,449.5 753,451.8 753,454 753,456.3 754,417.9 754,420.1 754,424.7 754,426.9 754,433.7 754,436 754,438.2 754,442.7 754,449.5 754,451.8 754,456.3 755,424.7 755,431.4 755,433.7 755,445 755,447.3 755,456.3 755,458.6 756,413.4 756,415.6 756,417.9 756,420.1 756,422.4 756,424.7 756,426.9 756,429.2 756,431.4 756,433.7 756,436 756,438.2 756,440.5 756,442.7 756,445 756,460.8 757,411.1 757,415.6 757,417.9 757,422.4 757,424.7 757,426.9 757,429.2 757,431.4 757,433.7 757,436 757,438.2 757,440.5 757,442.7 757,445 758,397.5 758,406.6 758,408.8 758,411.1 758,413.4 758,415.6 758,417.9 758,420.1 758,422.4 758,424.7 758,426.9 758,429.2 758,431.4 758,433.7 758,436 758,438.2 758,440.5 758,442.7 758,447.3 759,395.3 759,397.5 759,399.8 759,402.1 759,404.3 759,406.6 759,408.8 759,411.1 759,413.4 759,415.6 759,417.9 759,420.1 759,422.4 759,424.7 759,426.9 759,429.2 759,431.4 759,433.7 759,436 759,438.2 759,440.5 759,442.7 760,402.1 760,406.6 760,422.4 760,429.2 760,433.7 760,438.2 760,440.5 761,384 761,386.2 761,388.5 761,390.8 761,393 761,395.3 761,397.5 761,399.8 761,402.1 761,404.3 761,406.6 761,408.8 761,411.1 761,413.4 761,415.6 761,417.9 761,420.1 761,422.4 761,424.7 761,426.9 761,429.2 761,431.4 761,433.7 761,436 762,370.4 762,372.7 762,374.9 762,377.2 762,379.5 762,381.7 762,384 762,386.2 762,388.5 762,390.8 762,393 762,395.3 762,397.5 762,399.8 762,402.1 762,404.3 762,406.6 762,408.8 762,411.1 762,413.4 762,415.6 762,417.9 762,420.1 762,422.4 762,424.7 762,426.9 762,440.5 763,374.9 763,379.5 763,384 763,388.5 763,390.8 763,399.8 763,406.6 763,408.8 763,411.1 763,415.6 763,417.9 763,420.1 763,422.4 763,436 764,361.4 764,372.7 764,374.9 764,377.2 764,379.5 764,381.7 764,384 764,386.2 764,388.5 764,390.8 764,393 764,395.3 764,397.5 764,399.8 764,402.1 764,404.3 764,406.6 764,408.8 764,411.1 764,413.4 764,415.6 764,417.9 764,420.1 764,422.4 765,379.5 765,381.7 765,384 765,386.2 765,388.5 765,390.8 765,393 765,395.3 765,397.5 765,399.8 765,402.1 765,404.3 765,406.6 765,408.8 765,411.1 765,413.4 765,415.6 766,384 766,386.2 766,388.5 766,393 766,395.3 766,397.5 766,399.8 766,404.3 766,406.6 766,408.8 766,411.1 766,413.4 767,381.7 767,384 767,386.2 767,388.5 767,390.8 767,395.3 767,397.5 767,402.1 767,404.3 767,406.6 767,408.8 767,411.1 768,381.7 768,384 768,386.2 768,388.5 768,390.8 768,393 768,395.3 768,397.5 768,399.8 768,402.1 768,404.3 768,406.6 768,408.8 769,377.2 769,379.5 769,381.7 769,384 769,386.2 769,388.5 769,390.8 769,393 769,395.3 769,397.5 769,399.8 769,402.1 769,404.3 769,406.6 769,408.8 769,411.1 769,413.4 769,415.6 769,417.9 770,374.9 770,377.2 770,379.5 770,381.7 770,384 770,386.2 770,388.5 770,390.8 770,393 770,395.3 770,397.5 770,399.8 770,402.1 770,404.3 770,406.6 770,408.8 770,411.1 770,413.4 771,388.5 771,390.8 771,393 771,395.3 771,397.5 771,399.8 771,402.1 771,404.3 771,406.6 771,411.1 771,424.7 772,393 772,395.3 772,397.5 772,399.8 772,404.3 772,406.6 772,408.8 772,411.1 772,415.6 772,417.9 773,386.2 773,388.5 773,390.8 773,393 773,395.3 773,397.5 773,402.1 773,404.3 773,406.6 773,408.8 773,411.1 773,415.6 773,429.2 774,393 774,397.5 774,399.8 774,402.1 774,404.3 774,406.6 774,408.8 774,413.4 774,417.9 775,384 775,390.8 775,393 775,397.5 775,399.8 775,402.1 775,404.3 775,406.6 776,386.2 776,390.8 776,393 776,395.3 776,397.5 776,399.8 776,402.1 776,404.3 776,406.6 776,408.8 776,411.1 776,413.4 776,415.6 777,390.8 777,393 777,397.5 777,402.1 777,404.3 777,406.6 777,408.8 777,415.6 777,417.9 778,393 778,395.3 778,402.1 778,404.3 778,406.6 778,408.8 778,411.1 778,413.4 779,388.5 779,390.8 779,393 779,395.3 779,397.5 779,399.8 779,402.1 779,404.3 779,406.6 779,408.8 779,411.1 779,413.4 779,415.6 779,417.9 779,420.1 780,386.2 780,390.8 780,393 780,395.3 780,397.5 780,399.8 780,402.1 780,404.3 780,406.6 780,408.8 780,411.1 780,413.4 780,415.6 780,424.7 183,347 194,347 204,348 212,350 214,341 226,348 198,353 221,357 180,359 181,360 177,366 190,363 190,365 208,364 213,362 214,360 181,377 188,373 188,377 195,378 213,375 224,368 223,371 229,370 231,375 221,374 204,366 207,370 261,345 263,341 265,346 266,348 278,341 280,343 277,348 275,357 282,355 284,357 286,350 290,350 291,355 255,359 255,363 261,364 255,368 262,371 270,363 281,368 286,364 278,376 283,376 288,373 288,377 304,341 301,350 308,350 312,347 317,340 307,355 336,347 345,345 349,347 336,364 342,363 338,370 336,375 331,382 330,387 198,431 203,437 204,442 221,441 221,445 229,435 239,443 245,398 247,408 252,416 254,440 257,441 281,440 284,438 294,435 307,406 309,411 314,394 345,408 345,419 345,424 342,415 357,406 357,408 338,442 336,452 680,344 686,355 658,359 667,366 656,373 652,382 683,378 711,343 717,344 735,343 740,342 740,346 767,343 765,346 762,356 764,359 771,355 773,355 776,356 778,361 764,366 769,368 736,368 738,374 755,379 779,379 742,382 610,392 604,404 620,412 642,398 660,440 687,431 696,436 722,424 724,431 723,411 669,449 686,450 730,427 733,433 769,433 778,441 757,399 753,401 370,112 373,110 445,110 453,121 247,144 371,140 378,144 361,147 365,147 367,151 375,147 354,153 388,144 396,140 422,149 420,156 443,144 447,142 473,140 483,147 458,153 455,154 462,154 391,160 394,166 452,161 441,165 466,163 475,165 477,165 479,165 481,170 485,177 240,168 249,168 238,179 245,179 243,186 308,172 317,179 319,179 306,188 315,188 295,193 299,193 310,195 304,198 302,202 312,200 321,205 323,209 346,188 350,193 359,198 348,202 357,205 352,207 363,179 384,177 386,186 392,188 380,193 382,204 415,170 417,175 405,182 411,190 460,175 464,181 471,181 439,193 437,202 468,200 424,205 403,205 409,211 413,218 236,205 253,207 270,200 268,212 255,220 255,226 272,223 266,228 287,218 200,214 203,216 205,212 230,216 219,228 184,234 182,246 186,244 224,239 228,235 234,235 232,241 226,250 217,251 221,264 251,234 264,239 261,244 276,241 278,239 283,239 274,246 291,242 297,232 285,253 280,255 293,258 289,271 196,262 198,267 238,265 238,272 259,269 245,281 257,281 342,223 344,226 340,237 325,258 401,221 399,223 407,228 435,221 436,223 426,246 432,264 430,274 440,274 439,281 440,281 428,294 438,294 392,271 395,274 390,283 390,283 409,297 410,299 177,278 179,281 177,288 177,297 188,292 190,290 192,288 194,287 207,279 209,288 211,287 213,302 215,313 200,311 202,324 207,322 207,327 207,328 240,295 243,295 247,316 338,285 331,294 333,297 338,294 345,297 327,304 336,306 329,315 304,295 307,300 297,302 297,315 269,311 271,309 274,325 278,324 278,328 375,295 375,304 376,308 401,318 403,320 405,325 194,333 196,336 219,328 228,327 234,330 221,336 236,336 253,333 255,330 265,333 287,333 183,334 203,338 255,338 277,336 317,339 538,107 555,108 561,110 566,107 571,113 567,117 504,112 506,116 521,128 529,128 525,131 519,133 527,135 536,133 500,133 548,130 557,131 564,130 574,131 593,128 498,140 508,140 517,142 534,140 542,142 532,145 523,147 502,147 515,151 510,153 494,154 607,137 612,140 614,142 618,139 605,147 610,151 587,151 576,154 553,156 540,161 580,165 601,158 597,161 603,161 627,153 489,168 496,168 485,177 487,179 492,179 513,186 591,177 595,177 599,181 588,191 578,196 584,202 625,184 622,198 620,221 715,156 713,174 700,184 704,184 709,182 711,182 706,195 723,195 725,200 728,202 669,214 692,212 698,211 702,209 696,216 694,220 683,226 688,226 690,230 719,218 721,223 736,230 734,234 717,244 732,253 730,260 768,211 766,220 778,234 764,237 776,242 774,244 772,250 762,258 770,264 667,235 671,235 673,241 658,241 660,242 662,246 664,246 656,250 654,260 631,257 635,258 572,250 515,260 675,272 685,269 738,272 740,281 742,295 744,297 629,283 633,281 637,299 641,297 652,306 643,311 648,316 646,318 639,322 650,327 677,315 681,315 679,325 695,315 697,316 698,320 695,330 708,292 704,299 701,308 712,306 716,306 724,302 729,302 726,308 728,308 724,309 719,316 723,318 722,322 721,328 725,328 757,302 755,311 747,318 759,322 751,328 766,330 753,336 749,338 740,338 734,339 713,339 776,338 660,336 668,338 627,325 627,333 539,279 533,283 546,287 546,288 533,290 532,297 569,295 560,297 554,299 576,300 546,302 574,304 177,455 179,453 183,455 183,453 187,449 189,455 191,453 191,450 193,455 195,449 196,447 198,457 199,451 203,447 205,445 206,451 207,449 213,451 213,455 214,449 216,457 218,461 219,451 221,444 223,449 225,451 226,453 228,457 230,459 212,478 234,447 235,449 237,449 239,444 241,449 243,447 245,447 251,445 253,449 255,451 257,453 259,449 261,451 263,449 265,445 266,445 268,444 272,449 274,451 275,447 276,449 278,451 280,453 282,449 284,451 286,449 288,447 290,449 292,444 296,447 302,449 307,447 282,440 284,438 286,466 326,461 328,460 329,457 330,459 331,455 332,454 333,457 335,455 336,452 328,460 330,458 345,424 386,423 382,433 379,445 381,463 390,444 391,442 393,444 396,444 400,447 404,442 408,442 410,447 427,442 428,445 430,440 432,444 433,438 435,449 437,447 439,445 441,444 440,438 430,451 430,473 430,484 471,421 481,426 510,410 532,413 539,419 546,422 533,426 537,426 533,433 552,406 554,406 552,435 554,452 515,475 569,436 569,441 571,441 576,441 576,412 579,415 587,413 593,456 620,412 639,454 640,456 650,456 652,458 656,447 658,449 660,441 668,449 680,458 681,461 680,464 687,450 695,443 697,436 695,447 699,445 701,445 704,445 708,445 713,443 716,447 718,450 717,456 718,458 721,436 723,431 724,439 726,445 728,441 730,447 732,449 734,447 736,443 738,447 739,452 740,456 742,454 743,458 745,456 747,461 734,461 748,452 752,466 751,468 753,461 757,452 760,456 761,458 762,452 765,450 767,443 768,449 770,452 772,450 773,448 777,452 778,441 776,447" fill="none" stroke="none" marker-start="url(#m)" marker-mid="url(#m)" marker-end="url(#m)"/>
<g font-family="'Liberation Serif', 'Times New Roman', serif" font-size="20.3" fill="#000">
<text x="488.5" y="71" text-anchor="middle" xml:space="preserve">Record:  e092a</text>
<text x="489.2" y="636" text-anchor="middle">Time (hour)</text>
<text transform="translate(100 332.5) rotate(-90)" text-anchor="middle">RR Interval (second)</text>
<text x="159.1" y="565.3" text-anchor="end" font-size="18.3">0.0</text>
<text x="159.1" y="452.3" text-anchor="end" font-size="18.3">0.5</text>
<text x="159.1" y="339.3" text-anchor="end" font-size="18.3">1.0</text>
<text x="159.1" y="226.3" text-anchor="end" font-size="18.3">1.5</text>
<text x="159.1" y="113.3" text-anchor="end" font-size="18.3">2.0</text>
<text x="172.0" y="585.5" text-anchor="middle" font-size="18.3">0</text>
<text x="298.6" y="585.5" text-anchor="middle" font-size="18.3">5</text>
<text x="425.2" y="585.5" text-anchor="middle" font-size="18.3">10</text>
<text x="551.8" y="585.5" text-anchor="middle" font-size="18.3">15</text>
<text x="678.4" y="585.5" text-anchor="middle" font-size="18.3">20</text>
<text x="805.0" y="585.5" text-anchor="middle" font-size="18.3">25</text>
</g></svg>
</body></html>
